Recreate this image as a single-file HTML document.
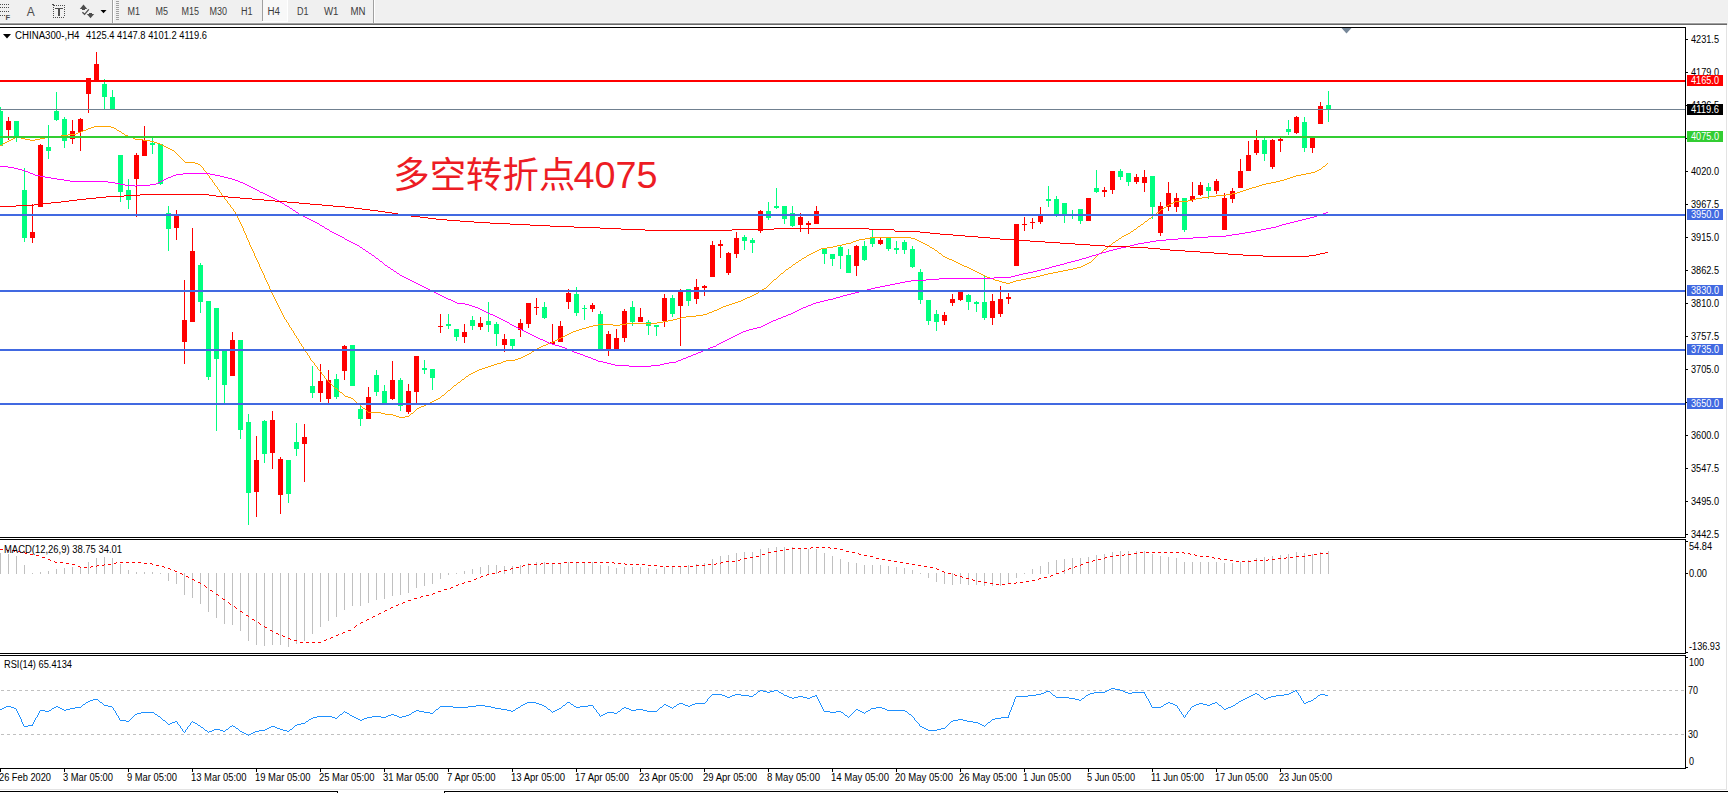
<!DOCTYPE html>
<html lang="zh"><head><meta charset="utf-8"><title>CHINA300-,H4</title>
<style>html,body{margin:0;padding:0;background:#fff;overflow:hidden}body{width:1728px;height:793px;position:relative}svg{position:absolute;left:0;top:0;display:block}text{font-family:"Liberation Sans","Noto Sans CJK SC",sans-serif;white-space:pre}.big{font-family:"Liberation Sans","Noto Sans CJK SC",sans-serif}</style></head><body>
<svg width="1728" height="793" viewBox="0 0 1728 793" shape-rendering="crispEdges">
<rect x="0" y="0" width="1728" height="793" fill="#ffffff"/>
<rect x="0" y="0" width="1728" height="22" fill="#f0f0f0"/>
<rect x="0" y="22" width="1727" height="1" fill="#f8f8f8"/>
<rect x="0" y="23" width="1727" height="1" fill="#a0a0a0"/>
<rect x="0" y="24" width="1727" height="1" fill="#696969"/>
<rect x="1727" y="0" width="1" height="25" fill="#f0f0f0"/>
<rect x="1726" y="25" width="1" height="765" fill="#e3e3e3"/>
<rect x="0" y="789" width="1727" height="1" fill="#e3e3e3"/>
<rect x="0" y="791" width="338" height="1" fill="#000"/>
<rect x="444" y="791" width="1284" height="1" fill="#000"/>
<rect x="337" y="791" width="1" height="2" fill="#000"/>
<rect x="444" y="791" width="1" height="2" fill="#000"/>
<rect x="0" y="4" width="1" height="1" fill="#4d4d4d"/>
<rect x="2" y="4" width="1" height="1" fill="#4d4d4d"/>
<rect x="4" y="4" width="1" height="1" fill="#4d4d4d"/>
<rect x="6" y="4" width="1" height="1" fill="#4d4d4d"/>
<rect x="8" y="4" width="1" height="1" fill="#4d4d4d"/>
<rect x="0" y="7" width="1" height="1" fill="#4d4d4d"/>
<rect x="2" y="7" width="1" height="1" fill="#4d4d4d"/>
<rect x="4" y="7" width="1" height="1" fill="#4d4d4d"/>
<rect x="6" y="7" width="1" height="1" fill="#4d4d4d"/>
<rect x="8" y="7" width="1" height="1" fill="#4d4d4d"/>
<rect x="0" y="11" width="1" height="1" fill="#4d4d4d"/>
<rect x="2" y="11" width="1" height="1" fill="#4d4d4d"/>
<rect x="4" y="11" width="1" height="1" fill="#4d4d4d"/>
<rect x="6" y="11" width="1" height="1" fill="#4d4d4d"/>
<rect x="8" y="11" width="1" height="1" fill="#4d4d4d"/>
<rect x="0" y="15" width="1" height="1" fill="#4d4d4d"/>
<rect x="2" y="15" width="1" height="1" fill="#4d4d4d"/>
<rect x="4" y="15" width="1" height="1" fill="#4d4d4d"/>
<text x="5.5" y="20" font-size="7.5" font-weight="bold" fill="#4d4d4d">F</text>
<text x="26.8" y="16" font-size="12.5" fill="#4d4d4d" textLength="8" lengthAdjust="spacingAndGlyphs">A</text>
<rect x="52" y="4" width="2" height="1" fill="#4d4d4d"/>
<rect x="53" y="5" width="2" height="1" fill="#4d4d4d"/>
<rect x="56" y="5" width="1" height="1" fill="#4d4d4d"/>
<rect x="58" y="5" width="1" height="1" fill="#4d4d4d"/>
<rect x="60" y="5" width="1" height="1" fill="#4d4d4d"/>
<rect x="62" y="5" width="1" height="1" fill="#4d4d4d"/>
<rect x="64" y="5" width="1" height="1" fill="#4d4d4d"/>
<rect x="53" y="7" width="1" height="1" fill="#4d4d4d"/>
<rect x="53" y="9" width="1" height="1" fill="#4d4d4d"/>
<rect x="53" y="11" width="1" height="1" fill="#4d4d4d"/>
<rect x="53" y="13" width="1" height="1" fill="#4d4d4d"/>
<rect x="53" y="15" width="1" height="1" fill="#4d4d4d"/>
<rect x="53" y="17" width="1" height="1" fill="#4d4d4d"/>
<rect x="64" y="7" width="1" height="1" fill="#4d4d4d"/>
<rect x="64" y="9" width="1" height="1" fill="#4d4d4d"/>
<rect x="64" y="11" width="1" height="1" fill="#4d4d4d"/>
<rect x="64" y="13" width="1" height="1" fill="#4d4d4d"/>
<rect x="64" y="15" width="1" height="1" fill="#4d4d4d"/>
<rect x="55" y="17" width="1" height="1" fill="#4d4d4d"/>
<rect x="57" y="17" width="1" height="1" fill="#4d4d4d"/>
<rect x="59" y="17" width="1" height="1" fill="#4d4d4d"/>
<rect x="61" y="17" width="1" height="1" fill="#4d4d4d"/>
<rect x="63" y="17" width="1" height="1" fill="#4d4d4d"/>
<rect x="55" y="8" width="8" height="1" fill="#4d4d4d"/>
<rect x="58" y="9" width="2" height="7" fill="#4d4d4d"/>
<g shape-rendering="geometricPrecision" fill="#4d4d4d"><polygon points="83.5,4.6 87.2,8.9 79.8,8.9"/><rect x="82" y="8.9" width="3" height="1.1"/><polygon points="90.5,18.2 94.2,14 86.8,14"/><rect x="89" y="13" width="3" height="1.1"/><polyline points="82.4,12.2 84.6,14.3 88.8,9.3" fill="none" stroke="#4d4d4d" stroke-width="1.3"/><polygon points="100.5,10 106.5,10 103.5,13.2" fill="#000"/></g>
<rect x="112" y="0" width="1" height="23" fill="#a0a0a0"/>
<rect x="113" y="0" width="1" height="23" fill="#ffffff"/>
<rect x="116" y="1" width="3" height="1" fill="#a0a0a0"/>
<rect x="116" y="3" width="3" height="1" fill="#a0a0a0"/>
<rect x="116" y="5" width="3" height="1" fill="#a0a0a0"/>
<rect x="116" y="7" width="3" height="1" fill="#a0a0a0"/>
<rect x="116" y="9" width="3" height="1" fill="#a0a0a0"/>
<rect x="116" y="11" width="3" height="1" fill="#a0a0a0"/>
<rect x="116" y="13" width="3" height="1" fill="#a0a0a0"/>
<rect x="116" y="15" width="3" height="1" fill="#a0a0a0"/>
<rect x="116" y="17" width="3" height="1" fill="#a0a0a0"/>
<rect x="116" y="19" width="3" height="1" fill="#a0a0a0"/>
<rect x="262" y="0" width="1" height="21" fill="#a0a0a0"/>
<rect x="263" y="0" width="24" height="21" fill="#f8f8f8"/>
<rect x="287" y="0" width="1" height="22" fill="#ffffff"/>
<rect x="262" y="21" width="26" height="1" fill="#ffffff"/>
<text x="127.5" y="15.4" font-size="10" fill="#3c3c3c" textLength="12.5" lengthAdjust="spacingAndGlyphs">M1</text>
<text x="155.5" y="15.4" font-size="10" fill="#3c3c3c" textLength="12.5" lengthAdjust="spacingAndGlyphs">M5</text>
<text x="181.5" y="15.4" font-size="10" fill="#3c3c3c" textLength="17.5" lengthAdjust="spacingAndGlyphs">M15</text>
<text x="209.5" y="15.4" font-size="10" fill="#3c3c3c" textLength="17.5" lengthAdjust="spacingAndGlyphs">M30</text>
<text x="241" y="15.4" font-size="10" fill="#3c3c3c" textLength="11.5" lengthAdjust="spacingAndGlyphs">H1</text>
<text x="267.5" y="15.4" font-size="10" fill="#3c3c3c" textLength="12.5" lengthAdjust="spacingAndGlyphs">H4</text>
<text x="297" y="15.4" font-size="10" fill="#3c3c3c" textLength="11.5" lengthAdjust="spacingAndGlyphs">D1</text>
<text x="324" y="15.4" font-size="10" fill="#3c3c3c" textLength="14.5" lengthAdjust="spacingAndGlyphs">W1</text>
<text x="350.5" y="15.4" font-size="10" fill="#3c3c3c" textLength="15" lengthAdjust="spacingAndGlyphs">MN</text>
<rect x="373" y="0" width="1" height="23" fill="#a0a0a0"/>
<rect x="374" y="0" width="1" height="23" fill="#ffffff"/>
<rect x="0" y="107" width="1" height="39" fill="#00ff7f"/>
<rect x="0" y="111" width="3" height="35" fill="#00ff7f"/>
<rect x="8" y="117" width="1" height="23" fill="#ff0000"/>
<rect x="6" y="121" width="5" height="9" fill="#ff0000"/>
<rect x="16" y="121" width="1" height="21" fill="#00ff7f"/>
<rect x="14" y="121" width="5" height="17" fill="#00ff7f"/>
<rect x="24" y="168" width="1" height="74" fill="#00ff7f"/>
<rect x="22" y="190" width="5" height="48" fill="#00ff7f"/>
<rect x="32" y="204" width="1" height="39" fill="#ff0000"/>
<rect x="30" y="232" width="5" height="6" fill="#ff0000"/>
<rect x="40" y="144" width="1" height="63" fill="#ff0000"/>
<rect x="38" y="145" width="5" height="62" fill="#ff0000"/>
<rect x="48" y="125" width="1" height="34" fill="#00ff7f"/>
<rect x="46" y="147" width="5" height="4" fill="#00ff7f"/>
<rect x="56" y="92" width="1" height="29" fill="#00ff7f"/>
<rect x="54" y="111" width="5" height="9" fill="#00ff7f"/>
<rect x="64" y="117" width="1" height="31" fill="#00ff7f"/>
<rect x="62" y="119" width="5" height="22" fill="#00ff7f"/>
<rect x="72" y="120" width="1" height="24" fill="#ff0000"/>
<rect x="70" y="131" width="5" height="8" fill="#ff0000"/>
<rect x="80" y="118" width="1" height="33" fill="#ff0000"/>
<rect x="78" y="119" width="5" height="13" fill="#ff0000"/>
<rect x="88" y="78" width="1" height="35" fill="#ff0000"/>
<rect x="86" y="78" width="5" height="16" fill="#ff0000"/>
<rect x="96" y="52" width="1" height="29" fill="#ff0000"/>
<rect x="94" y="64" width="5" height="17" fill="#ff0000"/>
<rect x="104" y="79" width="1" height="31" fill="#00ff7f"/>
<rect x="102" y="84" width="5" height="13" fill="#00ff7f"/>
<rect x="112" y="90" width="1" height="20" fill="#00ff7f"/>
<rect x="110" y="97" width="5" height="13" fill="#00ff7f"/>
<rect x="120" y="155" width="1" height="47" fill="#00ff7f"/>
<rect x="118" y="155" width="5" height="37" fill="#00ff7f"/>
<rect x="128" y="179" width="1" height="30" fill="#00ff7f"/>
<rect x="126" y="190" width="5" height="10" fill="#00ff7f"/>
<rect x="136" y="153" width="1" height="64" fill="#ff0000"/>
<rect x="134" y="155" width="5" height="24" fill="#ff0000"/>
<rect x="144" y="126" width="1" height="30" fill="#ff0000"/>
<rect x="142" y="140" width="5" height="16" fill="#ff0000"/>
<rect x="152" y="138" width="1" height="16" fill="#00ff7f"/>
<rect x="150" y="143" width="5" height="2" fill="#00ff7f"/>
<rect x="160" y="144" width="1" height="41" fill="#00ff7f"/>
<rect x="158" y="144" width="5" height="40" fill="#00ff7f"/>
<rect x="168" y="206" width="1" height="45" fill="#00ff7f"/>
<rect x="166" y="213" width="5" height="16" fill="#00ff7f"/>
<rect x="176" y="210" width="1" height="30" fill="#ff0000"/>
<rect x="174" y="216" width="5" height="12" fill="#ff0000"/>
<rect x="184" y="280" width="1" height="84" fill="#ff0000"/>
<rect x="182" y="320" width="5" height="22" fill="#ff0000"/>
<rect x="192" y="228" width="1" height="94" fill="#ff0000"/>
<rect x="190" y="251" width="5" height="71" fill="#ff0000"/>
<rect x="200" y="263" width="1" height="50" fill="#00ff7f"/>
<rect x="198" y="265" width="5" height="37" fill="#00ff7f"/>
<rect x="208" y="301" width="1" height="79" fill="#00ff7f"/>
<rect x="206" y="301" width="5" height="76" fill="#00ff7f"/>
<rect x="216" y="308" width="1" height="123" fill="#00ff7f"/>
<rect x="214" y="308" width="5" height="51" fill="#00ff7f"/>
<rect x="224" y="350" width="1" height="53" fill="#00ff7f"/>
<rect x="222" y="350" width="5" height="35" fill="#00ff7f"/>
<rect x="232" y="332" width="1" height="44" fill="#ff0000"/>
<rect x="230" y="340" width="5" height="36" fill="#ff0000"/>
<rect x="240" y="340" width="1" height="99" fill="#00ff7f"/>
<rect x="238" y="340" width="5" height="90" fill="#00ff7f"/>
<rect x="248" y="414" width="1" height="111" fill="#00ff7f"/>
<rect x="246" y="422" width="5" height="71" fill="#00ff7f"/>
<rect x="256" y="436" width="1" height="81" fill="#ff0000"/>
<rect x="254" y="460" width="5" height="32" fill="#ff0000"/>
<rect x="264" y="420" width="1" height="43" fill="#00ff7f"/>
<rect x="262" y="421" width="5" height="33" fill="#00ff7f"/>
<rect x="272" y="411" width="1" height="58" fill="#ff0000"/>
<rect x="270" y="420" width="5" height="33" fill="#ff0000"/>
<rect x="280" y="457" width="1" height="57" fill="#ff0000"/>
<rect x="278" y="459" width="5" height="36" fill="#ff0000"/>
<rect x="288" y="460" width="1" height="43" fill="#00ff7f"/>
<rect x="286" y="460" width="5" height="34" fill="#00ff7f"/>
<rect x="296" y="423" width="1" height="33" fill="#00ff7f"/>
<rect x="294" y="442" width="5" height="7" fill="#00ff7f"/>
<rect x="304" y="424" width="1" height="58" fill="#ff0000"/>
<rect x="302" y="437" width="5" height="7" fill="#ff0000"/>
<rect x="312" y="366" width="1" height="32" fill="#00ff7f"/>
<rect x="310" y="386" width="5" height="7" fill="#00ff7f"/>
<rect x="320" y="364" width="1" height="38" fill="#ff0000"/>
<rect x="318" y="381" width="5" height="12" fill="#ff0000"/>
<rect x="328" y="370" width="1" height="33" fill="#ff0000"/>
<rect x="326" y="380" width="5" height="19" fill="#ff0000"/>
<rect x="336" y="374" width="1" height="25" fill="#00ff7f"/>
<rect x="334" y="379" width="5" height="18" fill="#00ff7f"/>
<rect x="344" y="345" width="1" height="35" fill="#ff0000"/>
<rect x="342" y="346" width="5" height="25" fill="#ff0000"/>
<rect x="352" y="345" width="1" height="41" fill="#00ff7f"/>
<rect x="350" y="345" width="5" height="41" fill="#00ff7f"/>
<rect x="360" y="406" width="1" height="20" fill="#00ff7f"/>
<rect x="358" y="409" width="5" height="10" fill="#00ff7f"/>
<rect x="368" y="387" width="1" height="32" fill="#ff0000"/>
<rect x="366" y="397" width="5" height="22" fill="#ff0000"/>
<rect x="376" y="370" width="1" height="26" fill="#00ff7f"/>
<rect x="374" y="375" width="5" height="17" fill="#00ff7f"/>
<rect x="384" y="385" width="1" height="19" fill="#00ff7f"/>
<rect x="382" y="391" width="5" height="13" fill="#00ff7f"/>
<rect x="392" y="361" width="1" height="39" fill="#ff0000"/>
<rect x="390" y="380" width="5" height="19" fill="#ff0000"/>
<rect x="400" y="378" width="1" height="33" fill="#00ff7f"/>
<rect x="398" y="380" width="5" height="26" fill="#00ff7f"/>
<rect x="408" y="384" width="1" height="30" fill="#ff0000"/>
<rect x="406" y="391" width="5" height="21" fill="#ff0000"/>
<rect x="416" y="356" width="1" height="47" fill="#ff0000"/>
<rect x="414" y="356" width="5" height="36" fill="#ff0000"/>
<rect x="424" y="360" width="1" height="14" fill="#00ff7f"/>
<rect x="422" y="368" width="5" height="2" fill="#00ff7f"/>
<rect x="432" y="369" width="1" height="21" fill="#00ff7f"/>
<rect x="430" y="369" width="5" height="9" fill="#00ff7f"/>
<rect x="440" y="314" width="1" height="19" fill="#ff0000"/>
<rect x="438" y="326" width="5" height="1" fill="#ff0000"/>
<rect x="448" y="314" width="1" height="15" fill="#00ff7f"/>
<rect x="446" y="324" width="5" height="2" fill="#00ff7f"/>
<rect x="456" y="329" width="1" height="12" fill="#00ff7f"/>
<rect x="454" y="329" width="5" height="8" fill="#00ff7f"/>
<rect x="464" y="324" width="1" height="19" fill="#ff0000"/>
<rect x="462" y="332" width="5" height="5" fill="#ff0000"/>
<rect x="472" y="316" width="1" height="14" fill="#00ff7f"/>
<rect x="470" y="320" width="5" height="6" fill="#00ff7f"/>
<rect x="480" y="317" width="1" height="13" fill="#ff0000"/>
<rect x="478" y="323" width="5" height="4" fill="#ff0000"/>
<rect x="488" y="302" width="1" height="30" fill="#00ff7f"/>
<rect x="486" y="321" width="5" height="4" fill="#00ff7f"/>
<rect x="496" y="322" width="1" height="24" fill="#00ff7f"/>
<rect x="494" y="324" width="5" height="10" fill="#00ff7f"/>
<rect x="504" y="334" width="1" height="18" fill="#ff0000"/>
<rect x="502" y="339" width="5" height="6" fill="#ff0000"/>
<rect x="512" y="339" width="1" height="10" fill="#00ff7f"/>
<rect x="510" y="339" width="5" height="7" fill="#00ff7f"/>
<rect x="520" y="319" width="1" height="18" fill="#ff0000"/>
<rect x="518" y="323" width="5" height="7" fill="#ff0000"/>
<rect x="528" y="303" width="1" height="25" fill="#ff0000"/>
<rect x="526" y="303" width="5" height="21" fill="#ff0000"/>
<rect x="536" y="298" width="1" height="17" fill="#ff0000"/>
<rect x="534" y="307" width="5" height="1" fill="#ff0000"/>
<rect x="544" y="302" width="1" height="17" fill="#00ff7f"/>
<rect x="542" y="307" width="5" height="11" fill="#00ff7f"/>
<rect x="552" y="324" width="1" height="20" fill="#ff0000"/>
<rect x="550" y="342" width="5" height="2" fill="#ff0000"/>
<rect x="560" y="321" width="1" height="21" fill="#ff0000"/>
<rect x="558" y="326" width="5" height="16" fill="#ff0000"/>
<rect x="568" y="289" width="1" height="20" fill="#ff0000"/>
<rect x="566" y="293" width="5" height="9" fill="#ff0000"/>
<rect x="576" y="287" width="1" height="29" fill="#00ff7f"/>
<rect x="574" y="294" width="5" height="19" fill="#00ff7f"/>
<rect x="584" y="305" width="1" height="15" fill="#00ff7f"/>
<rect x="582" y="308" width="5" height="1" fill="#00ff7f"/>
<rect x="592" y="303" width="1" height="9" fill="#ff0000"/>
<rect x="590" y="305" width="5" height="4" fill="#ff0000"/>
<rect x="600" y="311" width="1" height="39" fill="#00ff7f"/>
<rect x="598" y="314" width="5" height="36" fill="#00ff7f"/>
<rect x="608" y="331" width="1" height="25" fill="#ff0000"/>
<rect x="606" y="334" width="5" height="16" fill="#ff0000"/>
<rect x="616" y="329" width="1" height="21" fill="#ff0000"/>
<rect x="614" y="338" width="5" height="12" fill="#ff0000"/>
<rect x="624" y="309" width="1" height="33" fill="#ff0000"/>
<rect x="622" y="311" width="5" height="27" fill="#ff0000"/>
<rect x="632" y="301" width="1" height="25" fill="#00ff7f"/>
<rect x="630" y="307" width="5" height="15" fill="#00ff7f"/>
<rect x="640" y="308" width="1" height="14" fill="#ff0000"/>
<rect x="638" y="317" width="5" height="5" fill="#ff0000"/>
<rect x="648" y="320" width="1" height="15" fill="#00ff7f"/>
<rect x="646" y="322" width="5" height="4" fill="#00ff7f"/>
<rect x="656" y="325" width="1" height="11" fill="#00ff7f"/>
<rect x="654" y="325" width="5" height="2" fill="#00ff7f"/>
<rect x="664" y="294" width="1" height="33" fill="#ff0000"/>
<rect x="662" y="298" width="5" height="23" fill="#ff0000"/>
<rect x="672" y="295" width="1" height="22" fill="#00ff7f"/>
<rect x="670" y="298" width="5" height="16" fill="#00ff7f"/>
<rect x="680" y="289" width="1" height="57" fill="#ff0000"/>
<rect x="678" y="291" width="5" height="15" fill="#ff0000"/>
<rect x="688" y="289" width="1" height="17" fill="#00ff7f"/>
<rect x="686" y="289" width="5" height="12" fill="#00ff7f"/>
<rect x="696" y="279" width="1" height="25" fill="#ff0000"/>
<rect x="694" y="287" width="5" height="12" fill="#ff0000"/>
<rect x="704" y="285" width="1" height="11" fill="#ff0000"/>
<rect x="702" y="286" width="5" height="2" fill="#ff0000"/>
<rect x="712" y="241" width="1" height="36" fill="#ff0000"/>
<rect x="710" y="245" width="5" height="32" fill="#ff0000"/>
<rect x="720" y="240" width="1" height="18" fill="#ff0000"/>
<rect x="718" y="244" width="5" height="2" fill="#ff0000"/>
<rect x="728" y="252" width="1" height="23" fill="#ff0000"/>
<rect x="726" y="253" width="5" height="20" fill="#ff0000"/>
<rect x="736" y="232" width="1" height="26" fill="#ff0000"/>
<rect x="734" y="238" width="5" height="16" fill="#ff0000"/>
<rect x="744" y="235" width="1" height="15" fill="#00ff7f"/>
<rect x="742" y="237" width="5" height="4" fill="#00ff7f"/>
<rect x="752" y="238" width="1" height="15" fill="#00ff7f"/>
<rect x="750" y="240" width="5" height="3" fill="#00ff7f"/>
<rect x="760" y="210" width="1" height="23" fill="#ff0000"/>
<rect x="758" y="211" width="5" height="20" fill="#ff0000"/>
<rect x="768" y="202" width="1" height="18" fill="#00ff7f"/>
<rect x="766" y="211" width="5" height="7" fill="#00ff7f"/>
<rect x="776" y="188" width="1" height="21" fill="#00ff7f"/>
<rect x="774" y="206" width="5" height="2" fill="#00ff7f"/>
<rect x="784" y="206" width="1" height="18" fill="#00ff7f"/>
<rect x="782" y="206" width="5" height="13" fill="#00ff7f"/>
<rect x="792" y="206" width="1" height="21" fill="#00ff7f"/>
<rect x="790" y="213" width="5" height="13" fill="#00ff7f"/>
<rect x="800" y="213" width="1" height="19" fill="#ff0000"/>
<rect x="798" y="217" width="5" height="8" fill="#ff0000"/>
<rect x="808" y="221" width="1" height="13" fill="#ff0000"/>
<rect x="806" y="223" width="5" height="2" fill="#ff0000"/>
<rect x="816" y="206" width="1" height="18" fill="#ff0000"/>
<rect x="814" y="211" width="5" height="13" fill="#ff0000"/>
<rect x="824" y="249" width="1" height="15" fill="#00ff7f"/>
<rect x="822" y="249" width="5" height="5" fill="#00ff7f"/>
<rect x="832" y="254" width="1" height="12" fill="#00ff7f"/>
<rect x="830" y="254" width="5" height="5" fill="#00ff7f"/>
<rect x="840" y="245" width="1" height="24" fill="#00ff7f"/>
<rect x="838" y="247" width="5" height="9" fill="#00ff7f"/>
<rect x="848" y="249" width="1" height="24" fill="#00ff7f"/>
<rect x="846" y="255" width="5" height="18" fill="#00ff7f"/>
<rect x="856" y="245" width="1" height="31" fill="#ff0000"/>
<rect x="854" y="246" width="5" height="20" fill="#ff0000"/>
<rect x="864" y="241" width="1" height="20" fill="#00ff7f"/>
<rect x="862" y="246" width="5" height="14" fill="#00ff7f"/>
<rect x="872" y="230" width="1" height="17" fill="#00ff7f"/>
<rect x="870" y="237" width="5" height="7" fill="#00ff7f"/>
<rect x="880" y="238" width="1" height="7" fill="#ff0000"/>
<rect x="878" y="240" width="5" height="4" fill="#ff0000"/>
<rect x="888" y="238" width="1" height="13" fill="#00ff7f"/>
<rect x="886" y="238" width="5" height="11" fill="#00ff7f"/>
<rect x="896" y="241" width="1" height="13" fill="#00ff7f"/>
<rect x="894" y="248" width="5" height="2" fill="#00ff7f"/>
<rect x="904" y="240" width="1" height="14" fill="#00ff7f"/>
<rect x="902" y="242" width="5" height="8" fill="#00ff7f"/>
<rect x="912" y="246" width="1" height="22" fill="#00ff7f"/>
<rect x="910" y="249" width="5" height="18" fill="#00ff7f"/>
<rect x="920" y="269" width="1" height="35" fill="#00ff7f"/>
<rect x="918" y="272" width="5" height="28" fill="#00ff7f"/>
<rect x="928" y="300" width="1" height="25" fill="#00ff7f"/>
<rect x="926" y="300" width="5" height="21" fill="#00ff7f"/>
<rect x="936" y="310" width="1" height="21" fill="#00ff7f"/>
<rect x="934" y="314" width="5" height="8" fill="#00ff7f"/>
<rect x="944" y="312" width="1" height="13" fill="#ff0000"/>
<rect x="942" y="315" width="5" height="6" fill="#ff0000"/>
<rect x="952" y="294" width="1" height="12" fill="#ff0000"/>
<rect x="950" y="299" width="5" height="4" fill="#ff0000"/>
<rect x="960" y="291" width="1" height="10" fill="#ff0000"/>
<rect x="958" y="291" width="5" height="9" fill="#ff0000"/>
<rect x="968" y="294" width="1" height="16" fill="#00ff7f"/>
<rect x="966" y="295" width="5" height="7" fill="#00ff7f"/>
<rect x="976" y="301" width="1" height="11" fill="#00ff7f"/>
<rect x="974" y="302" width="5" height="2" fill="#00ff7f"/>
<rect x="984" y="275" width="1" height="45" fill="#00ff7f"/>
<rect x="982" y="302" width="5" height="16" fill="#00ff7f"/>
<rect x="992" y="294" width="1" height="31" fill="#ff0000"/>
<rect x="990" y="301" width="5" height="17" fill="#ff0000"/>
<rect x="1000" y="286" width="1" height="31" fill="#ff0000"/>
<rect x="998" y="299" width="5" height="15" fill="#ff0000"/>
<rect x="1008" y="293" width="1" height="11" fill="#ff0000"/>
<rect x="1006" y="297" width="5" height="2" fill="#ff0000"/>
<rect x="1016" y="224" width="1" height="42" fill="#ff0000"/>
<rect x="1014" y="224" width="5" height="42" fill="#ff0000"/>
<rect x="1024" y="217" width="1" height="14" fill="#ff0000"/>
<rect x="1022" y="224" width="5" height="1" fill="#ff0000"/>
<rect x="1032" y="218" width="1" height="11" fill="#ff0000"/>
<rect x="1030" y="222" width="5" height="1" fill="#ff0000"/>
<rect x="1040" y="207" width="1" height="17" fill="#ff0000"/>
<rect x="1038" y="215" width="5" height="7" fill="#ff0000"/>
<rect x="1048" y="186" width="1" height="21" fill="#00ff7f"/>
<rect x="1046" y="199" width="5" height="2" fill="#00ff7f"/>
<rect x="1056" y="196" width="1" height="21" fill="#00ff7f"/>
<rect x="1054" y="199" width="5" height="17" fill="#00ff7f"/>
<rect x="1064" y="203" width="1" height="20" fill="#00ff7f"/>
<rect x="1062" y="203" width="5" height="12" fill="#00ff7f"/>
<rect x="1072" y="210" width="1" height="9" fill="#00ff7f"/>
<rect x="1070" y="214" width="5" height="1" fill="#00ff7f"/>
<rect x="1080" y="209" width="1" height="15" fill="#00ff7f"/>
<rect x="1078" y="209" width="5" height="12" fill="#00ff7f"/>
<rect x="1088" y="198" width="1" height="23" fill="#ff0000"/>
<rect x="1086" y="198" width="5" height="23" fill="#ff0000"/>
<rect x="1096" y="170" width="1" height="23" fill="#00ff7f"/>
<rect x="1094" y="188" width="5" height="4" fill="#00ff7f"/>
<rect x="1104" y="187" width="1" height="10" fill="#ff0000"/>
<rect x="1102" y="190" width="5" height="2" fill="#ff0000"/>
<rect x="1112" y="171" width="1" height="23" fill="#ff0000"/>
<rect x="1110" y="171" width="5" height="19" fill="#ff0000"/>
<rect x="1120" y="169" width="1" height="11" fill="#00ff7f"/>
<rect x="1118" y="171" width="5" height="6" fill="#00ff7f"/>
<rect x="1128" y="173" width="1" height="13" fill="#00ff7f"/>
<rect x="1126" y="173" width="5" height="9" fill="#00ff7f"/>
<rect x="1136" y="174" width="1" height="10" fill="#ff0000"/>
<rect x="1134" y="177" width="5" height="5" fill="#ff0000"/>
<rect x="1144" y="170" width="1" height="22" fill="#ff0000"/>
<rect x="1142" y="177" width="5" height="6" fill="#ff0000"/>
<rect x="1152" y="176" width="1" height="43" fill="#00ff7f"/>
<rect x="1150" y="176" width="5" height="31" fill="#00ff7f"/>
<rect x="1160" y="202" width="1" height="34" fill="#ff0000"/>
<rect x="1158" y="206" width="5" height="27" fill="#ff0000"/>
<rect x="1168" y="182" width="1" height="29" fill="#ff0000"/>
<rect x="1166" y="193" width="5" height="14" fill="#ff0000"/>
<rect x="1176" y="193" width="1" height="19" fill="#ff0000"/>
<rect x="1174" y="198" width="5" height="9" fill="#ff0000"/>
<rect x="1184" y="198" width="1" height="34" fill="#00ff7f"/>
<rect x="1182" y="198" width="5" height="32" fill="#00ff7f"/>
<rect x="1192" y="182" width="1" height="20" fill="#ff0000"/>
<rect x="1190" y="196" width="5" height="4" fill="#ff0000"/>
<rect x="1200" y="182" width="1" height="14" fill="#ff0000"/>
<rect x="1198" y="185" width="5" height="10" fill="#ff0000"/>
<rect x="1208" y="183" width="1" height="16" fill="#00ff7f"/>
<rect x="1206" y="187" width="5" height="4" fill="#00ff7f"/>
<rect x="1216" y="179" width="1" height="15" fill="#ff0000"/>
<rect x="1214" y="181" width="5" height="10" fill="#ff0000"/>
<rect x="1224" y="193" width="1" height="37" fill="#ff0000"/>
<rect x="1222" y="198" width="5" height="32" fill="#ff0000"/>
<rect x="1232" y="188" width="1" height="15" fill="#ff0000"/>
<rect x="1230" y="191" width="5" height="8" fill="#ff0000"/>
<rect x="1240" y="159" width="1" height="29" fill="#ff0000"/>
<rect x="1238" y="171" width="5" height="17" fill="#ff0000"/>
<rect x="1248" y="141" width="1" height="30" fill="#ff0000"/>
<rect x="1246" y="155" width="5" height="16" fill="#ff0000"/>
<rect x="1256" y="130" width="1" height="25" fill="#ff0000"/>
<rect x="1254" y="140" width="5" height="13" fill="#ff0000"/>
<rect x="1264" y="138" width="1" height="23" fill="#00ff7f"/>
<rect x="1262" y="140" width="5" height="14" fill="#00ff7f"/>
<rect x="1272" y="139" width="1" height="30" fill="#ff0000"/>
<rect x="1270" y="140" width="5" height="27" fill="#ff0000"/>
<rect x="1280" y="138" width="1" height="14" fill="#ff0000"/>
<rect x="1278" y="139" width="5" height="2" fill="#ff0000"/>
<rect x="1288" y="120" width="1" height="15" fill="#00ff7f"/>
<rect x="1286" y="129" width="5" height="3" fill="#00ff7f"/>
<rect x="1296" y="116" width="1" height="18" fill="#ff0000"/>
<rect x="1294" y="117" width="5" height="16" fill="#ff0000"/>
<rect x="1304" y="117" width="1" height="35" fill="#00ff7f"/>
<rect x="1302" y="122" width="5" height="26" fill="#00ff7f"/>
<rect x="1312" y="137" width="1" height="16" fill="#ff0000"/>
<rect x="1310" y="137" width="5" height="11" fill="#ff0000"/>
<rect x="1320" y="102" width="1" height="22" fill="#ff0000"/>
<rect x="1318" y="106" width="5" height="18" fill="#ff0000"/>
<rect x="1328" y="91" width="1" height="31" fill="#00ff7f"/>
<rect x="1326" y="105" width="5" height="5" fill="#00ff7f"/>
<path d="M0 145.5h2M2 144.5h1M3 143.5h2M5 142.5h2M7 141.5h2M9 140.5h2M11 139.5h2M13 138.5h2M15 137.5h6M21 138.5h4M25 139.5h5M30 140.5h5M35 139.5h5M40 138.5h5M45 137.5h8M53 136.5h8M61 135.5h7M68 134.5h8M76 133.5h2M78 132.5h3M81 131.5h2M83 130.5h3M86 129.5h2M88 128.5h3M91 127.5h3M94 126.5h17M111 127.5h3M114 128.5h2M116 129.5h1M117 130.5h2M119 131.5h2M121 132.5h1M122 133.5h2M124 134.5h1M125 135.5h3M128 136.5h2M130 137.5h3M133 138.5h2M135 139.5h8M143 140.5h7M150 141.5h4M154 142.5h3M157 143.5h3M160 144.5h2M162 145.5h2M164 146.5h2M166 147.5h2M168 148.5h2M170 149.5h2M172 150.5h2M174 151.5h1M175 152.5h1M176 153.5h1M177 154.5h1M178 155.5h1M179 156.5h1M180 157.5h1M181 158.5h1M182 159.5h1M183 160.5h1M184 161.5h1M185 162.5h10M195 163.5h3M198 164.5h2M200 165.5h1M201 166.5h1M202 167.5h1M203.5 168v2M204 170.5h1M205 171.5h1M206.5 172v2M207 174.5h1M208 175.5h1M209.5 176v2M210 178.5h1M211 179.5h1M212.5 180v2M213 182.5h1M214.5 183v2M215 185.5h1M216 186.5h1M217.5 187v2M218 189.5h1M219.5 190v2M220 192.5h1M221.5 193v2M222 195.5h1M223 196.5h1M224.5 197v2M225 199.5h1M226 200.5h1M227.5 201v2M228 203.5h1M229 204.5h1M230.5 205v2M231 207.5h1M232 208.5h1M233.5 209v2M234 211.5h1M235.5 212v2M236.5 214v2M237.5 216v2M238.5 218v2M239.5 220v2M240.5 222v2M241.5 224v2M242.5 226v2M243.5 228v3M244.5 231v2M245.5 233v2M246.5 235v3M247.5 238v2M248.5 240v2M249.5 242v3M250.5 245v2M251.5 247v2M252.5 249v2M253.5 251v2M254.5 253v3M255.5 256v2M256.5 258v2M257.5 260v2M258.5 262v2M259.5 264v3M260.5 267v2M261.5 269v2M262.5 271v2M263.5 273v2M264.5 275v3M265.5 278v2M266.5 280v2M267.5 282v2M268.5 284v2M269.5 286v3M270.5 289v2M271.5 291v2M272.5 293v2M273.5 295v2M274.5 297v2M275.5 299v2M276.5 301v2M277.5 303v2M278.5 305v2M279.5 307v2M280.5 309v2M281.5 311v2M282.5 313v2M283.5 315v2M284.5 317v2M285 319.5h1M286.5 320v2M287 322.5h1M288.5 323v2M289.5 325v2M290 327.5h1M291.5 328v2M292 330.5h1M293.5 331v2M294.5 333v2M295 335.5h1M296.5 336v2M297 338.5h1M298.5 339v2M299.5 341v2M300 343.5h1M301.5 344v2M302 346.5h1M303.5 347v2M304 349.5h1M305.5 350v2M306 352.5h1M307.5 353v2M308 355.5h1M309.5 356v2M310.5 358v2M311 360.5h1M312 361.5h1M313 362.5h1M314.5 363v2M315 365.5h1M316 366.5h1M317.5 367v2M318 369.5h1M319 370.5h1M320 371.5h1M321.5 372v2M322 374.5h1M323 375.5h1M324.5 376v2M325 378.5h1M326 379.5h1M327 380.5h1M328 381.5h1M329 382.5h1M330 383.5h1M331 384.5h1M332 385.5h1M333 386.5h1M334 387.5h1M335 388.5h2M337 389.5h1M338 390.5h1M339 391.5h1M340 392.5h2M342 393.5h1M343 394.5h1M344 395.5h1M345 396.5h3M348 397.5h3M351 398.5h2M353 399.5h1M354 400.5h1M355 401.5h1M356 402.5h1M357 403.5h1M358 404.5h2M360 405.5h1M361 406.5h1M362 407.5h1M363 408.5h2M365 409.5h1M366 410.5h1M367 411.5h1M368 412.5h13M381 413.5h4M385 414.5h8M393 415.5h3M396 416.5h3M399 417.5h6M405 416.5h4M409 415.5h1M410 414.5h1M411 413.5h2M413 412.5h1M414 411.5h1M415 410.5h1M416 409.5h1M417 408.5h2M419 407.5h2M421 406.5h3M424 405.5h2M426 404.5h3M429 403.5h1M430 402.5h2M432 401.5h2M434 400.5h2M436 399.5h2M438 398.5h2M440 397.5h1M441 396.5h1M442 395.5h2M444 394.5h1M445 393.5h1M446 392.5h1M447 391.5h1M448 390.5h2M450 389.5h1M451 388.5h1M452 387.5h1M453 386.5h1M454 385.5h2M456 384.5h1M457 383.5h1M458 382.5h2M460 381.5h1M461 380.5h1M462 379.5h2M464 378.5h1M465 377.5h1M466 376.5h2M468 375.5h1M469 374.5h2M471 373.5h2M473 372.5h2M475 371.5h2M477 370.5h2M479 369.5h3M482 368.5h3M485 367.5h3M488 366.5h3M491 365.5h3M494 364.5h3M497 363.5h4M501 362.5h2M503 361.5h3M506 360.5h9M515 359.5h3M518 358.5h3M521 357.5h2M523 356.5h2M525 355.5h2M527 354.5h2M529 353.5h2M531 352.5h1M532 351.5h2M534 350.5h2M536 349.5h1M537 348.5h2M539 347.5h2M541 346.5h2M543 345.5h3M546 344.5h2M548 343.5h3M551 342.5h2M553 341.5h2M555 340.5h2M557 339.5h2M559 338.5h2M561 337.5h2M563 336.5h2M565 335.5h2M567 334.5h2M569 333.5h2M571 332.5h2M573 331.5h3M576 330.5h3M579 329.5h3M582 328.5h4M586 327.5h3M589 326.5h4M593 325.5h5M598 324.5h15M613 325.5h7M620 324.5h6M626 323.5h24M650 324.5h1M651 323.5h6M657 322.5h6M663 321.5h5M668 320.5h5M673 319.5h4M677 318.5h4M681 317.5h5M686 316.5h10M696 315.5h7M703 314.5h4M707 313.5h2M709 312.5h3M712 311.5h2M714 310.5h3M717 309.5h2M719 308.5h2M721 307.5h2M723 306.5h3M726 305.5h3M729 304.5h3M732 303.5h3M735 302.5h3M738 301.5h3M741 300.5h2M743 299.5h2M745 298.5h2M747 297.5h3M750 296.5h2M752 295.5h2M754 294.5h2M756 293.5h2M758 292.5h1M759 291.5h2M761 290.5h1M762 289.5h2M764 288.5h2M766 287.5h1M767 286.5h1M768 285.5h1M769 284.5h1M770 283.5h1M771 282.5h1M772 281.5h1M773 280.5h1M774 279.5h2M776 278.5h1M777 277.5h1M778 276.5h1M779 275.5h1M780 274.5h1M781 273.5h2M783 272.5h1M784 271.5h1M785 270.5h1M786 269.5h2M788 268.5h1M789 267.5h2M791 266.5h1M792 265.5h1M793 264.5h2M795 263.5h1M796 262.5h2M798 261.5h1M799 260.5h2M801 259.5h1M802 258.5h2M804 257.5h2M806 256.5h1M807 255.5h2M809 254.5h2M811 253.5h2M813 252.5h2M815 251.5h2M817 250.5h2M819 249.5h2M821 248.5h6M827 247.5h6M833 246.5h4M837 245.5h5M842 244.5h4M846 243.5h5M851 242.5h2M853 241.5h3M856 240.5h3M859 239.5h6M865 238.5h6M871 237.5h40M911 238.5h4M915 239.5h2M917 240.5h2M919 241.5h2M921 242.5h2M923 243.5h2M925 244.5h2M927 245.5h2M929 246.5h1M930 247.5h2M932 248.5h2M934 249.5h1M935 250.5h2M937 251.5h1M938 252.5h1M939 253.5h2M941 254.5h1M942 255.5h1M943 256.5h2M945 257.5h2M947 258.5h2M949 259.5h3M952 260.5h2M954 261.5h2M956 262.5h2M958 263.5h2M960 264.5h2M962 265.5h2M964 266.5h3M967 267.5h2M969 268.5h2M971 269.5h2M973 270.5h2M975 271.5h2M977 272.5h2M979 273.5h2M981 274.5h2M983 275.5h2M985 276.5h2M987 277.5h3M990 278.5h3M993 279.5h2M995 280.5h4M999 281.5h3M1002 282.5h4M1006 283.5h4M1010 282.5h3M1013 281.5h3M1016 280.5h5M1021 279.5h5M1026 278.5h5M1031 277.5h5M1036 276.5h4M1040 275.5h4M1044 274.5h4M1048 273.5h5M1053 272.5h5M1058 271.5h5M1063 270.5h5M1068 269.5h5M1073 268.5h4M1077 267.5h4M1081 266.5h2M1083 265.5h2M1085 264.5h2M1087 263.5h2M1089 262.5h2M1091 261.5h1M1092 260.5h1M1093 259.5h1M1094 258.5h1M1095 257.5h1M1096 256.5h1M1097 255.5h1M1098 254.5h1M1099 253.5h2M1101 252.5h1M1102 251.5h1M1103 250.5h1M1104 249.5h2M1106 248.5h1M1107 247.5h1M1108 246.5h1M1109 245.5h2M1111 244.5h1M1112 243.5h1M1113 242.5h2M1115 241.5h1M1116 240.5h2M1118 239.5h1M1119 238.5h2M1121 237.5h1M1122 236.5h2M1124 235.5h2M1126 234.5h2M1128 233.5h2M1130 232.5h1M1131 231.5h2M1133 230.5h1M1134 229.5h2M1136 228.5h1M1137 227.5h1M1138 226.5h2M1140 225.5h1M1141 224.5h2M1143 223.5h1M1144 222.5h1M1145 221.5h2M1147 220.5h1M1148 219.5h1M1149 218.5h2M1151 217.5h1M1152 216.5h1M1153 215.5h2M1155 214.5h1M1156 213.5h1M1157 212.5h2M1159 211.5h1M1160 210.5h1M1161 209.5h2M1163 208.5h1M1164 207.5h2M1166 206.5h1M1167 205.5h2M1169 204.5h2M1171 203.5h2M1173 202.5h2M1175 201.5h13M1188 200.5h4M1192 199.5h4M1196 198.5h6M1202 197.5h7M1209 196.5h7M1216 195.5h10M1226 194.5h6M1232 193.5h5M1237 192.5h3M1240 191.5h3M1243 190.5h3M1246 189.5h3M1249 188.5h3M1252 187.5h4M1256 186.5h3M1259 185.5h3M1262 184.5h4M1266 183.5h5M1271 182.5h5M1276 181.5h4M1280 180.5h4M1284 179.5h3M1287 178.5h3M1290 177.5h3M1293 176.5h3M1296 175.5h5M1301 174.5h5M1306 173.5h5M1311 172.5h4M1315 171.5h2M1317 170.5h2M1319 169.5h2M1321 168.5h1M1322 167.5h1M1323 166.5h2M1325 165.5h1M1326 164.5h1M1327 163.5h1" fill="none" stroke="#ffa500" stroke-width="1"/>
<path d="M0 166.5h8M8 167.5h6M14 168.5h4M18 169.5h4M22 170.5h3M25 171.5h3M28 172.5h2M30 173.5h3M33 174.5h2M35 175.5h5M40 176.5h5M45 177.5h6M51 178.5h6M57 179.5h7M64 180.5h6M70 181.5h38M108 182.5h7M115 183.5h5M120 184.5h5M125 185.5h10M135 186.5h1M136 185.5h14M150 184.5h6M156 183.5h2M158 182.5h2M160 181.5h2M162 180.5h2M164 179.5h2M166 178.5h2M168 177.5h3M171 176.5h2M173 175.5h3M176 174.5h7M183 173.5h27M210 174.5h5M215 175.5h5M220 176.5h4M224 177.5h4M228 178.5h4M232 179.5h3M235 180.5h3M238 181.5h2M240 182.5h3M243 183.5h2M245 184.5h2M247 185.5h2M249 186.5h2M251 187.5h2M253 188.5h2M255 189.5h2M257 190.5h2M259 191.5h1M260 192.5h3M263 193.5h2M265 194.5h2M267 195.5h2M269 196.5h2M271 197.5h2M273 198.5h2M275 199.5h2M277 200.5h2M279 201.5h1M280 202.5h2M282 203.5h2M284 204.5h1M285 205.5h2M287 206.5h2M289 207.5h1M290 208.5h2M292 209.5h1M293 210.5h2M295 211.5h1M296 212.5h2M298 213.5h1M299 214.5h1M300 215.5h3M303 216.5h2M305 217.5h2M307 218.5h2M309 219.5h2M311 220.5h2M313 221.5h2M315 222.5h2M317 223.5h2M319 224.5h1M320 225.5h2M322 226.5h2M324 227.5h1M325 228.5h2M327 229.5h2M329 230.5h1M330 231.5h2M332 232.5h2M334 233.5h2M336 234.5h2M338 235.5h2M340 236.5h2M342 237.5h2M344 238.5h1M345 239.5h2M347 240.5h2M349 241.5h2M351 242.5h2M353 243.5h2M355 244.5h2M357 245.5h2M359 246.5h1M360 247.5h2M362 248.5h1M363 249.5h2M365 250.5h1M366 251.5h2M368 252.5h1M369 253.5h2M371 254.5h1M372 255.5h2M374 256.5h1M375 257.5h1M376 258.5h2M378 259.5h1M379 260.5h1M380 261.5h2M382 262.5h1M383 263.5h1M384 264.5h1M385 265.5h2M387 266.5h1M388 267.5h2M390 268.5h1M391 269.5h2M393 270.5h1M394 271.5h2M396 272.5h1M397 273.5h2M399 274.5h1M400 275.5h2M402 276.5h2M404 277.5h2M406 278.5h2M408 279.5h2M410 280.5h2M412 281.5h2M414 282.5h2M416 283.5h2M418 284.5h2M420 285.5h2M422 286.5h2M424 287.5h2M426 288.5h2M428 289.5h2M430 290.5h2M432 291.5h2M434 292.5h2M436 293.5h2M438 294.5h2M440 295.5h2M442 296.5h2M444 297.5h2M446 298.5h2M448 299.5h3M451 300.5h2M453 301.5h2M455 302.5h2M457 303.5h8M465 304.5h4M469 305.5h3M472 306.5h3M475 307.5h3M478 308.5h2M480 309.5h2M482 310.5h2M484 311.5h2M486 312.5h2M488 313.5h2M490 314.5h3M493 315.5h2M495 316.5h2M497 317.5h2M499 318.5h2M501 319.5h2M503 320.5h2M505 321.5h2M507 322.5h2M509 323.5h1M510 324.5h2M512 325.5h2M514 326.5h2M516 327.5h2M518 328.5h2M520 329.5h2M522 330.5h2M524 331.5h2M526 332.5h2M528 333.5h2M530 334.5h2M532 335.5h2M534 336.5h2M536 337.5h2M538 338.5h2M540 339.5h3M543 340.5h2M545 341.5h2M547 342.5h2M549 343.5h3M552 344.5h3M555 345.5h4M559 346.5h3M562 347.5h3M565 348.5h2M567 349.5h3M570 350.5h2M572 351.5h2M574 352.5h3M577 353.5h3M580 354.5h3M583 355.5h2M585 356.5h3M588 357.5h3M591 358.5h2M593 359.5h3M596 360.5h2M598 361.5h5M603 362.5h4M607 363.5h4M611 364.5h4M615 365.5h14M629 366.5h22M651 365.5h9M660 364.5h4M664 363.5h5M669 362.5h7M676 361.5h2M678 360.5h3M681 359.5h2M683 358.5h3M686 357.5h2M688 356.5h3M691 355.5h2M693 354.5h3M696 353.5h2M698 352.5h3M701 351.5h2M703 350.5h2M705 349.5h3M708 348.5h2M710 347.5h3M713 346.5h3M716 345.5h1M717 344.5h2M719 343.5h2M721 342.5h2M723 341.5h2M725 340.5h2M727 339.5h2M729 338.5h2M731 337.5h2M733 336.5h2M735 335.5h2M737 334.5h2M739 333.5h2M741 332.5h2M743 331.5h3M746 330.5h3M749 329.5h4M753 328.5h4M757 327.5h4M761 326.5h2M763 325.5h2M765 324.5h2M767 323.5h2M769 322.5h2M771 321.5h2M773 320.5h3M776 319.5h2M778 318.5h3M781 317.5h2M783 316.5h3M786 315.5h2M788 314.5h3M791 313.5h2M793 312.5h2M795 311.5h2M797 310.5h2M799 309.5h2M801 308.5h2M803 307.5h3M806 306.5h2M808 305.5h3M811 304.5h2M813 303.5h3M816 302.5h4M820 301.5h4M824 300.5h4M828 299.5h5M833 298.5h3M836 297.5h4M840 296.5h3M843 295.5h4M847 294.5h4M851 293.5h4M855 292.5h4M859 291.5h4M863 290.5h4M867 289.5h4M871 288.5h4M875 287.5h5M880 286.5h5M885 285.5h5M890 284.5h5M895 283.5h5M900 282.5h5M905 281.5h6M911 280.5h15M926 279.5h13M939 278.5h55M994 277.5h17M1011 276.5h4M1015 275.5h4M1019 274.5h4M1023 273.5h5M1028 272.5h5M1033 271.5h4M1037 270.5h4M1041 269.5h4M1045 268.5h4M1049 267.5h3M1052 266.5h4M1056 265.5h4M1060 264.5h4M1064 263.5h3M1067 262.5h4M1071 261.5h4M1075 260.5h4M1079 259.5h3M1082 258.5h4M1086 257.5h3M1089 256.5h3M1092 255.5h4M1096 254.5h3M1099 253.5h3M1102 252.5h4M1106 251.5h3M1109 250.5h4M1113 249.5h4M1117 248.5h4M1121 247.5h5M1126 246.5h4M1130 245.5h4M1134 244.5h4M1138 243.5h6M1144 242.5h6M1150 241.5h6M1156 240.5h10M1166 239.5h12M1178 238.5h15M1193 237.5h15M1208 236.5h18M1226 235.5h6M1232 234.5h7M1239 233.5h6M1245 232.5h6M1251 231.5h5M1256 230.5h5M1261 229.5h5M1266 228.5h5M1271 227.5h5M1276 226.5h3M1279 225.5h3M1282 224.5h4M1286 223.5h4M1290 222.5h4M1294 221.5h4M1298 220.5h4M1302 219.5h4M1306 218.5h4M1310 217.5h4M1314 216.5h3M1317 215.5h3M1320 214.5h3M1323 213.5h3M1326 212.5h2" fill="none" stroke="#ff00ff" stroke-width="1"/>
<path d="M0 206.5h16M16 205.5h18M34 204.5h7M41 203.5h10M51 202.5h10M61 201.5h8M69 200.5h8M77 199.5h9M86 198.5h10M96 197.5h10M106 196.5h18M124 195.5h16M140 194.5h69M209 195.5h7M216 196.5h12M228 197.5h12M240 198.5h12M252 199.5h12M264 200.5h11M275 201.5h12M287 202.5h12M299 203.5h11M310 204.5h12M322 205.5h11M333 206.5h12M345 207.5h9M354 208.5h8M362 209.5h8M370 210.5h8M378 211.5h7M385 212.5h7M392 213.5h6M398 214.5h7M405 215.5h6M411 216.5h9M420 217.5h8M428 218.5h8M436 219.5h11M447 220.5h13M460 221.5h14M474 222.5h16M490 223.5h20M510 224.5h20M530 225.5h20M550 226.5h24M574 227.5h26M600 228.5h21M621 229.5h24M645 230.5h87M732 229.5h42M774 228.5h95M869 229.5h25M894 230.5h1M895 231.5h25M920 232.5h10M930 233.5h10M940 234.5h13M953 235.5h12M965 236.5h13M978 237.5h12M990 238.5h10M1000 239.5h15M1015 240.5h15M1030 241.5h15M1045 242.5h15M1060 243.5h15M1075 244.5h15M1090 245.5h15M1105 246.5h25M1130 247.5h18M1148 248.5h12M1160 249.5h10M1170 250.5h15M1185 251.5h15M1200 252.5h14M1214 253.5h14M1228 254.5h15M1243 255.5h20M1263 256.5h46M1309 255.5h7M1316 254.5h4M1320 253.5h5M1325 252.5h3" fill="none" stroke="#ff0000" stroke-width="1"/>
<rect x="0" y="80" width="1685" height="2" fill="#ff0000"/>
<rect x="0" y="109" width="1685" height="1" fill="#708090"/>
<rect x="0" y="136" width="1685" height="2" fill="#32cd32"/>
<rect x="0" y="214" width="1685" height="2" fill="#4169e1"/>
<rect x="0" y="290" width="1685" height="2" fill="#4169e1"/>
<rect x="0" y="349" width="1685" height="2" fill="#4169e1"/>
<rect x="0" y="403" width="1685" height="2" fill="#4169e1"/>
<rect x="0" y="27" width="1686" height="1" fill="#000"/>
<rect x="0" y="537" width="1686" height="1" fill="#000"/>
<rect x="1685" y="27" width="1" height="511" fill="#000"/>
<rect x="0" y="539" width="1686" height="1" fill="#000"/>
<rect x="0" y="653" width="1686" height="1" fill="#000"/>
<rect x="1685" y="539" width="1" height="115" fill="#000"/>
<rect x="0" y="655" width="1686" height="1" fill="#000"/>
<rect x="0" y="768" width="1686" height="1" fill="#000"/>
<rect x="1685" y="655" width="1" height="114" fill="#000"/>
<polygon points="1341.5,28 1351.5,28 1346.5,33.5" fill="#778899" shape-rendering="geometricPrecision"/>
<rect x="1686" y="39" width="2" height="1" fill="#000"/>
<text x="1691" y="43.0" font-size="10" fill="#000" textLength="28" lengthAdjust="spacingAndGlyphs">4231.5</text>
<rect x="1686" y="72" width="2" height="1" fill="#000"/>
<text x="1691" y="76.0" font-size="10" fill="#000" textLength="28" lengthAdjust="spacingAndGlyphs">4179.0</text>
<rect x="1686" y="105" width="2" height="1" fill="#000"/>
<text x="1691" y="109.0" font-size="10" fill="#000" textLength="28" lengthAdjust="spacingAndGlyphs">4126.5</text>
<rect x="1686" y="138" width="2" height="1" fill="#000"/>
<text x="1691" y="142.0" font-size="10" fill="#000" textLength="28" lengthAdjust="spacingAndGlyphs">4074.0</text>
<rect x="1686" y="171" width="2" height="1" fill="#000"/>
<text x="1691" y="175.0" font-size="10" fill="#000" textLength="28" lengthAdjust="spacingAndGlyphs">4020.0</text>
<rect x="1686" y="204" width="2" height="1" fill="#000"/>
<text x="1691" y="208.0" font-size="10" fill="#000" textLength="28" lengthAdjust="spacingAndGlyphs">3967.5</text>
<rect x="1686" y="237" width="2" height="1" fill="#000"/>
<text x="1691" y="241.0" font-size="10" fill="#000" textLength="28" lengthAdjust="spacingAndGlyphs">3915.0</text>
<rect x="1686" y="270" width="2" height="1" fill="#000"/>
<text x="1691" y="274.0" font-size="10" fill="#000" textLength="28" lengthAdjust="spacingAndGlyphs">3862.5</text>
<rect x="1686" y="303" width="2" height="1" fill="#000"/>
<text x="1691" y="307.0" font-size="10" fill="#000" textLength="28" lengthAdjust="spacingAndGlyphs">3810.0</text>
<rect x="1686" y="336" width="2" height="1" fill="#000"/>
<text x="1691" y="340.0" font-size="10" fill="#000" textLength="28" lengthAdjust="spacingAndGlyphs">3757.5</text>
<rect x="1686" y="369" width="2" height="1" fill="#000"/>
<text x="1691" y="373.0" font-size="10" fill="#000" textLength="28" lengthAdjust="spacingAndGlyphs">3705.0</text>
<rect x="1686" y="402" width="2" height="1" fill="#000"/>
<text x="1691" y="406.0" font-size="10" fill="#000" textLength="28" lengthAdjust="spacingAndGlyphs">3652.5</text>
<rect x="1686" y="435" width="2" height="1" fill="#000"/>
<text x="1691" y="439.0" font-size="10" fill="#000" textLength="28" lengthAdjust="spacingAndGlyphs">3600.0</text>
<rect x="1686" y="468" width="2" height="1" fill="#000"/>
<text x="1691" y="472.0" font-size="10" fill="#000" textLength="28" lengthAdjust="spacingAndGlyphs">3547.5</text>
<rect x="1686" y="501" width="2" height="1" fill="#000"/>
<text x="1691" y="505.0" font-size="10" fill="#000" textLength="28" lengthAdjust="spacingAndGlyphs">3495.0</text>
<rect x="1686" y="534" width="2" height="1" fill="#000"/>
<text x="1691" y="538.0" font-size="10" fill="#000" textLength="28" lengthAdjust="spacingAndGlyphs">3442.5</text>
<rect x="1686" y="541" width="2" height="1" fill="#000"/>
<text x="1689" y="550.4" font-size="10" fill="#000" textLength="23" lengthAdjust="spacingAndGlyphs">54.84</text>
<rect x="1686" y="573" width="2" height="1" fill="#000"/>
<text x="1689" y="577.4" font-size="10" fill="#000" textLength="18" lengthAdjust="spacingAndGlyphs">0.00</text>
<rect x="1686" y="652" width="2" height="1" fill="#000"/>
<text x="1689" y="650.4" font-size="10" fill="#000" textLength="31" lengthAdjust="spacingAndGlyphs">-136.93</text>
<rect x="1686" y="657" width="2" height="1" fill="#000"/>
<text x="1689" y="666.4" font-size="10" fill="#000" textLength="15" lengthAdjust="spacingAndGlyphs">100</text>
<text x="1688" y="694.4" font-size="10" fill="#000" textLength="10" lengthAdjust="spacingAndGlyphs">70</text>
<text x="1688" y="738.4" font-size="10" fill="#000" textLength="10" lengthAdjust="spacingAndGlyphs">30</text>
<rect x="1686" y="767" width="2" height="1" fill="#000"/>
<text x="1689" y="765.2" font-size="10" fill="#000" textLength="5" lengthAdjust="spacingAndGlyphs">0</text>
<rect x="1687" y="75" width="36" height="11" fill="#ff0000"/>
<text x="1691" y="84.2" font-size="10" fill="#fff" textLength="28" lengthAdjust="spacingAndGlyphs">4165.0</text>
<rect x="1687" y="104" width="36" height="11" fill="#000000"/>
<text x="1691" y="113.2" font-size="10" fill="#fff" textLength="28" lengthAdjust="spacingAndGlyphs">4119.6</text>
<rect x="1687" y="131" width="36" height="11" fill="#32cd32"/>
<text x="1691" y="140.2" font-size="10" fill="#fff" textLength="28" lengthAdjust="spacingAndGlyphs">4075.0</text>
<rect x="1687" y="209" width="36" height="11" fill="#4169e1"/>
<text x="1691" y="218.2" font-size="10" fill="#fff" textLength="28" lengthAdjust="spacingAndGlyphs">3950.0</text>
<rect x="1687" y="285" width="36" height="11" fill="#4169e1"/>
<text x="1691" y="294.2" font-size="10" fill="#fff" textLength="28" lengthAdjust="spacingAndGlyphs">3830.0</text>
<rect x="1687" y="344" width="36" height="11" fill="#4169e1"/>
<text x="1691" y="353.2" font-size="10" fill="#fff" textLength="28" lengthAdjust="spacingAndGlyphs">3735.0</text>
<rect x="1687" y="398" width="36" height="11" fill="#4169e1"/>
<text x="1691" y="407.2" font-size="10" fill="#fff" textLength="28" lengthAdjust="spacingAndGlyphs">3650.0</text>
<polygon points="3,34 11,34 7,38.5" fill="#000" shape-rendering="geometricPrecision"/>
<text x="15" y="39.3" font-size="10" fill="#000" textLength="64.5" lengthAdjust="spacingAndGlyphs">CHINA300-,H4</text>
<text x="86" y="39.3" font-size="10" fill="#000" textLength="121" lengthAdjust="spacingAndGlyphs">4125.4 4147.8 4101.2 4119.6</text>
<text y="187.5" font-size="36" fill="#ed1c24" class="big"><tspan x="393.3" textLength="182" lengthAdjust="spacingAndGlyphs">多空转折点</tspan><tspan x="573.6" textLength="84" lengthAdjust="spacingAndGlyphs">4075</tspan></text>
<rect x="0" y="553" width="1" height="21" fill="#c0c0c0"/>
<rect x="8" y="554" width="1" height="20" fill="#c0c0c0"/>
<rect x="16" y="556" width="1" height="18" fill="#c0c0c0"/>
<rect x="24" y="565" width="1" height="9" fill="#c0c0c0"/>
<rect x="32" y="573" width="1" height="1" fill="#c0c0c0"/>
<rect x="40" y="572" width="1" height="2" fill="#c0c0c0"/>
<rect x="48" y="571" width="1" height="3" fill="#c0c0c0"/>
<rect x="56" y="569" width="1" height="5" fill="#c0c0c0"/>
<rect x="64" y="568" width="1" height="6" fill="#c0c0c0"/>
<rect x="72" y="567" width="1" height="7" fill="#c0c0c0"/>
<rect x="80" y="567" width="1" height="7" fill="#c0c0c0"/>
<rect x="88" y="562" width="1" height="12" fill="#c0c0c0"/>
<rect x="96" y="558" width="1" height="16" fill="#c0c0c0"/>
<rect x="104" y="557" width="1" height="17" fill="#c0c0c0"/>
<rect x="112" y="558" width="1" height="16" fill="#c0c0c0"/>
<rect x="120" y="564" width="1" height="10" fill="#c0c0c0"/>
<rect x="128" y="570" width="1" height="4" fill="#c0c0c0"/>
<rect x="136" y="572" width="1" height="2" fill="#c0c0c0"/>
<rect x="144" y="572" width="1" height="2" fill="#c0c0c0"/>
<rect x="152" y="572" width="1" height="2" fill="#c0c0c0"/>
<rect x="160" y="573" width="1" height="1" fill="#c0c0c0"/>
<rect x="168" y="573" width="1" height="8" fill="#c0c0c0"/>
<rect x="176" y="573" width="1" height="11" fill="#c0c0c0"/>
<rect x="184" y="573" width="1" height="22" fill="#c0c0c0"/>
<rect x="192" y="573" width="1" height="25" fill="#c0c0c0"/>
<rect x="200" y="573" width="1" height="31" fill="#c0c0c0"/>
<rect x="208" y="573" width="1" height="39" fill="#c0c0c0"/>
<rect x="216" y="573" width="1" height="45" fill="#c0c0c0"/>
<rect x="224" y="573" width="1" height="51" fill="#c0c0c0"/>
<rect x="232" y="573" width="1" height="52" fill="#c0c0c0"/>
<rect x="240" y="573" width="1" height="58" fill="#c0c0c0"/>
<rect x="248" y="573" width="1" height="68" fill="#c0c0c0"/>
<rect x="256" y="573" width="1" height="72" fill="#c0c0c0"/>
<rect x="264" y="573" width="1" height="73" fill="#c0c0c0"/>
<rect x="272" y="573" width="1" height="72" fill="#c0c0c0"/>
<rect x="280" y="573" width="1" height="72" fill="#c0c0c0"/>
<rect x="288" y="573" width="1" height="74" fill="#c0c0c0"/>
<rect x="296" y="573" width="1" height="71" fill="#c0c0c0"/>
<rect x="304" y="573" width="1" height="68" fill="#c0c0c0"/>
<rect x="312" y="573" width="1" height="61" fill="#c0c0c0"/>
<rect x="320" y="573" width="1" height="54" fill="#c0c0c0"/>
<rect x="328" y="573" width="1" height="48" fill="#c0c0c0"/>
<rect x="336" y="573" width="1" height="44" fill="#c0c0c0"/>
<rect x="344" y="573" width="1" height="37" fill="#c0c0c0"/>
<rect x="352" y="573" width="1" height="33" fill="#c0c0c0"/>
<rect x="360" y="573" width="1" height="33" fill="#c0c0c0"/>
<rect x="368" y="573" width="1" height="30" fill="#c0c0c0"/>
<rect x="376" y="573" width="1" height="27" fill="#c0c0c0"/>
<rect x="384" y="573" width="1" height="26" fill="#c0c0c0"/>
<rect x="392" y="573" width="1" height="23" fill="#c0c0c0"/>
<rect x="400" y="573" width="1" height="22" fill="#c0c0c0"/>
<rect x="408" y="573" width="1" height="20" fill="#c0c0c0"/>
<rect x="416" y="573" width="1" height="15" fill="#c0c0c0"/>
<rect x="424" y="573" width="1" height="13" fill="#c0c0c0"/>
<rect x="432" y="573" width="1" height="11" fill="#c0c0c0"/>
<rect x="440" y="573" width="1" height="6" fill="#c0c0c0"/>
<rect x="448" y="573" width="1" height="2" fill="#c0c0c0"/>
<rect x="456" y="573" width="1" height="1" fill="#c0c0c0"/>
<rect x="464" y="571" width="1" height="3" fill="#c0c0c0"/>
<rect x="472" y="569" width="1" height="5" fill="#c0c0c0"/>
<rect x="480" y="567" width="1" height="7" fill="#c0c0c0"/>
<rect x="488" y="565" width="1" height="9" fill="#c0c0c0"/>
<rect x="496" y="565" width="1" height="9" fill="#c0c0c0"/>
<rect x="504" y="566" width="1" height="8" fill="#c0c0c0"/>
<rect x="512" y="566" width="1" height="8" fill="#c0c0c0"/>
<rect x="520" y="565" width="1" height="9" fill="#c0c0c0"/>
<rect x="528" y="563" width="1" height="11" fill="#c0c0c0"/>
<rect x="536" y="562" width="1" height="12" fill="#c0c0c0"/>
<rect x="544" y="562" width="1" height="12" fill="#c0c0c0"/>
<rect x="552" y="563" width="1" height="11" fill="#c0c0c0"/>
<rect x="560" y="563" width="1" height="11" fill="#c0c0c0"/>
<rect x="568" y="562" width="1" height="12" fill="#c0c0c0"/>
<rect x="576" y="562" width="1" height="12" fill="#c0c0c0"/>
<rect x="584" y="562" width="1" height="12" fill="#c0c0c0"/>
<rect x="592" y="562" width="1" height="12" fill="#c0c0c0"/>
<rect x="600" y="565" width="1" height="9" fill="#c0c0c0"/>
<rect x="608" y="566" width="1" height="8" fill="#c0c0c0"/>
<rect x="616" y="568" width="1" height="6" fill="#c0c0c0"/>
<rect x="624" y="567" width="1" height="7" fill="#c0c0c0"/>
<rect x="632" y="567" width="1" height="7" fill="#c0c0c0"/>
<rect x="640" y="567" width="1" height="7" fill="#c0c0c0"/>
<rect x="648" y="568" width="1" height="6" fill="#c0c0c0"/>
<rect x="656" y="569" width="1" height="5" fill="#c0c0c0"/>
<rect x="664" y="567" width="1" height="7" fill="#c0c0c0"/>
<rect x="672" y="567" width="1" height="7" fill="#c0c0c0"/>
<rect x="680" y="567" width="1" height="7" fill="#c0c0c0"/>
<rect x="688" y="565" width="1" height="9" fill="#c0c0c0"/>
<rect x="696" y="564" width="1" height="10" fill="#c0c0c0"/>
<rect x="704" y="563" width="1" height="11" fill="#c0c0c0"/>
<rect x="712" y="559" width="1" height="15" fill="#c0c0c0"/>
<rect x="720" y="556" width="1" height="18" fill="#c0c0c0"/>
<rect x="728" y="555" width="1" height="19" fill="#c0c0c0"/>
<rect x="736" y="553" width="1" height="21" fill="#c0c0c0"/>
<rect x="744" y="552" width="1" height="22" fill="#c0c0c0"/>
<rect x="752" y="552" width="1" height="22" fill="#c0c0c0"/>
<rect x="760" y="549" width="1" height="25" fill="#c0c0c0"/>
<rect x="768" y="548" width="1" height="26" fill="#c0c0c0"/>
<rect x="776" y="547" width="1" height="27" fill="#c0c0c0"/>
<rect x="784" y="547" width="1" height="27" fill="#c0c0c0"/>
<rect x="792" y="547" width="1" height="27" fill="#c0c0c0"/>
<rect x="800" y="548" width="1" height="26" fill="#c0c0c0"/>
<rect x="808" y="549" width="1" height="25" fill="#c0c0c0"/>
<rect x="816" y="549" width="1" height="25" fill="#c0c0c0"/>
<rect x="824" y="553" width="1" height="21" fill="#c0c0c0"/>
<rect x="832" y="556" width="1" height="18" fill="#c0c0c0"/>
<rect x="840" y="559" width="1" height="15" fill="#c0c0c0"/>
<rect x="848" y="562" width="1" height="12" fill="#c0c0c0"/>
<rect x="856" y="563" width="1" height="11" fill="#c0c0c0"/>
<rect x="864" y="565" width="1" height="9" fill="#c0c0c0"/>
<rect x="872" y="565" width="1" height="9" fill="#c0c0c0"/>
<rect x="880" y="565" width="1" height="9" fill="#c0c0c0"/>
<rect x="888" y="566" width="1" height="8" fill="#c0c0c0"/>
<rect x="896" y="567" width="1" height="7" fill="#c0c0c0"/>
<rect x="904" y="568" width="1" height="6" fill="#c0c0c0"/>
<rect x="912" y="570" width="1" height="4" fill="#c0c0c0"/>
<rect x="920" y="573" width="1" height="1" fill="#c0c0c0"/>
<rect x="928" y="573" width="1" height="5" fill="#c0c0c0"/>
<rect x="936" y="573" width="1" height="9" fill="#c0c0c0"/>
<rect x="944" y="573" width="1" height="11" fill="#c0c0c0"/>
<rect x="952" y="573" width="1" height="12" fill="#c0c0c0"/>
<rect x="960" y="573" width="1" height="11" fill="#c0c0c0"/>
<rect x="968" y="573" width="1" height="12" fill="#c0c0c0"/>
<rect x="976" y="573" width="1" height="12" fill="#c0c0c0"/>
<rect x="984" y="573" width="1" height="13" fill="#c0c0c0"/>
<rect x="992" y="573" width="1" height="13" fill="#c0c0c0"/>
<rect x="1000" y="573" width="1" height="13" fill="#c0c0c0"/>
<rect x="1008" y="573" width="1" height="11" fill="#c0c0c0"/>
<rect x="1016" y="573" width="1" height="5" fill="#c0c0c0"/>
<rect x="1024" y="573" width="1" height="1" fill="#c0c0c0"/>
<rect x="1032" y="569" width="1" height="5" fill="#c0c0c0"/>
<rect x="1040" y="566" width="1" height="8" fill="#c0c0c0"/>
<rect x="1048" y="562" width="1" height="12" fill="#c0c0c0"/>
<rect x="1056" y="560" width="1" height="14" fill="#c0c0c0"/>
<rect x="1064" y="559" width="1" height="15" fill="#c0c0c0"/>
<rect x="1072" y="558" width="1" height="16" fill="#c0c0c0"/>
<rect x="1080" y="558" width="1" height="16" fill="#c0c0c0"/>
<rect x="1088" y="557" width="1" height="17" fill="#c0c0c0"/>
<rect x="1096" y="555" width="1" height="19" fill="#c0c0c0"/>
<rect x="1104" y="554" width="1" height="20" fill="#c0c0c0"/>
<rect x="1112" y="552" width="1" height="22" fill="#c0c0c0"/>
<rect x="1120" y="551" width="1" height="23" fill="#c0c0c0"/>
<rect x="1128" y="551" width="1" height="23" fill="#c0c0c0"/>
<rect x="1136" y="551" width="1" height="23" fill="#c0c0c0"/>
<rect x="1144" y="551" width="1" height="23" fill="#c0c0c0"/>
<rect x="1152" y="554" width="1" height="20" fill="#c0c0c0"/>
<rect x="1160" y="556" width="1" height="18" fill="#c0c0c0"/>
<rect x="1168" y="557" width="1" height="17" fill="#c0c0c0"/>
<rect x="1176" y="558" width="1" height="16" fill="#c0c0c0"/>
<rect x="1184" y="562" width="1" height="12" fill="#c0c0c0"/>
<rect x="1192" y="562" width="1" height="12" fill="#c0c0c0"/>
<rect x="1200" y="562" width="1" height="12" fill="#c0c0c0"/>
<rect x="1208" y="562" width="1" height="12" fill="#c0c0c0"/>
<rect x="1216" y="562" width="1" height="12" fill="#c0c0c0"/>
<rect x="1224" y="563" width="1" height="11" fill="#c0c0c0"/>
<rect x="1232" y="563" width="1" height="11" fill="#c0c0c0"/>
<rect x="1240" y="562" width="1" height="12" fill="#c0c0c0"/>
<rect x="1248" y="560" width="1" height="14" fill="#c0c0c0"/>
<rect x="1256" y="558" width="1" height="16" fill="#c0c0c0"/>
<rect x="1264" y="557" width="1" height="17" fill="#c0c0c0"/>
<rect x="1272" y="556" width="1" height="18" fill="#c0c0c0"/>
<rect x="1280" y="555" width="1" height="19" fill="#c0c0c0"/>
<rect x="1288" y="554" width="1" height="20" fill="#c0c0c0"/>
<rect x="1296" y="552" width="1" height="22" fill="#c0c0c0"/>
<rect x="1304" y="553" width="1" height="21" fill="#c0c0c0"/>
<rect x="1312" y="554" width="1" height="20" fill="#c0c0c0"/>
<rect x="1320" y="552" width="1" height="22" fill="#c0c0c0"/>
<rect x="1328" y="551" width="1" height="23" fill="#c0c0c0"/>
<path d="M0 549.5h1M1 549.5h1M2 549.5h1M6 549.5h1M7 550.5h1M8 550.5h1M12 550.5h1M13 550.5h1M14 551.5h1M18 551.5h1M19 551.5h1M20 552.5h1M24 552.5h1M25 553.5h1M26 553.5h1M30 554.5h1M31 554.5h1M32 554.5h1M36 555.5h1M37 555.5h1M38 555.5h1M42 557.5h1M43 557.5h1M44 557.5h1M48 559.5h1M49 559.5h1M50 560.5h1M54 561.5h1M55 562.5h1M56 562.5h1M60 562.5h1M61 562.5h1M62 562.5h1M66 563.5h1M67 563.5h1M68 563.5h1M72 564.5h1M73 564.5h1M74 564.5h1M78 566.5h1M79 566.5h1M80 567.5h1M84 567.5h1M85 567.5h1M86 567.5h1M90 567.5h1M91 566.5h1M92 566.5h1M96 566.5h1M97 565.5h1M98 565.5h1M102 565.5h1M103 565.5h1M104 564.5h1M108 564.5h1M109 564.5h1M110 564.5h1M114 563.5h1M115 563.5h1M116 562.5h1M120 562.5h1M121 562.5h1M122 562.5h1M126 562.5h1M127 562.5h1M128 562.5h1M132 562.5h1M133 562.5h1M134 562.5h1M138 562.5h1M139 562.5h1M140 562.5h1M144 563.5h1M145 563.5h1M146 563.5h1M150 563.5h1M151 563.5h1M152 564.5h1M156 565.5h1M157 565.5h1M158 565.5h1M162 566.5h1M163 566.5h1M164 567.5h1M168 568.5h1M169 568.5h1M170 569.5h1M174 570.5h1M175 571.5h1M176 571.5h1M180 573.5h1M181 573.5h1M182 574.5h1M186 576.5h1M187 576.5h1M188 577.5h1M192 579.5h1M193 579.5h1M194 580.5h1M198 582.5h1M199 582.5h1M200 583.5h1M204 585.5h1M205 586.5h1M206 587.5h1M210 590.5h1M211 590.5h1M212 591.5h1M216 594.5h1M217 594.5h1M218 595.5h1M222 598.5h1M223 599.5h1M224 599.5h1M228 602.5h1M229 603.5h1M230 604.5h1M234 606.5h1M235 607.5h1M236 608.5h1M240 611.5h1M241 611.5h1M242 612.5h1M246 615.5h1M247 615.5h1M248 616.5h1M252 619.5h1M253 619.5h1M254 620.5h1M258 622.5h1M259 623.5h1M260 624.5h1M264 626.5h1M265 627.5h1M266 627.5h1M270 630.5h1M271 630.5h1M272 631.5h1M276 633.5h1M277 633.5h1M278 634.5h1M282 635.5h1M283 636.5h1M284 636.5h1M288 638.5h1M289 638.5h1M290 639.5h1M294 640.5h1M295 640.5h1M296 640.5h1M300 642.5h1M301 642.5h1M302 642.5h1M306 642.5h1M307 642.5h1M308 642.5h1M312 642.5h1M313 642.5h1M314 642.5h1M318 642.5h1M319 642.5h1M320 642.5h1M324 640.5h1M325 640.5h1M326 639.5h1M330 638.5h1M331 637.5h1M332 637.5h1M336 635.5h1M337 635.5h1M338 634.5h1M342 633.5h1M343 632.5h1M344 632.5h1M348 630.5h1M349 630.5h1M350 630.5h1M354 627.5h1M355 626.5h1M356 625.5h1M360 623.5h1M361 622.5h1M362 622.5h1M366 620.5h1M367 619.5h1M368 619.5h1M372 617.5h1M373 616.5h1M374 616.5h1M378 614.5h1M379 613.5h1M380 613.5h1M384 611.5h1M385 610.5h1M386 610.5h1M390 608.5h1M391 607.5h1M392 607.5h1M396 605.5h1M397 605.5h1M398 604.5h1M402 603.5h1M403 602.5h1M404 602.5h1M408 600.5h1M409 600.5h1M410 600.5h1M414 598.5h1M415 598.5h1M416 598.5h1M420 597.5h1M421 596.5h1M422 596.5h1M426 595.5h1M427 595.5h1M428 595.5h1M432 594.5h1M433 593.5h1M434 593.5h1M438 591.5h1M439 591.5h1M440 591.5h1M444 589.5h1M445 589.5h1M446 589.5h1M450 588.5h1M451 587.5h1M452 587.5h1M456 585.5h1M457 585.5h1M458 584.5h1M462 583.5h1M463 583.5h1M464 582.5h1M468 581.5h1M469 581.5h1M470 581.5h1M474 579.5h1M475 579.5h1M476 578.5h1M480 577.5h1M481 576.5h1M482 576.5h1M486 575.5h1M487 574.5h1M488 574.5h1M492 573.5h1M493 573.5h1M494 573.5h1M498 572.5h1M499 571.5h1M500 571.5h1M504 570.5h1M505 570.5h1M506 570.5h1M510 569.5h1M511 568.5h1M512 568.5h1M516 567.5h1M517 567.5h1M518 567.5h1M522 566.5h1M523 565.5h1M524 565.5h1M528 564.5h1M529 564.5h1M530 564.5h1M534 564.5h1M535 564.5h1M536 564.5h1M540 564.5h1M541 563.5h1M542 563.5h1M546 563.5h1M547 563.5h1M548 563.5h1M552 563.5h1M553 563.5h1M554 563.5h1M558 563.5h1M559 563.5h1M560 563.5h1M564 562.5h1M565 562.5h1M566 562.5h1M570 562.5h1M571 562.5h1M572 562.5h1M576 562.5h1M577 562.5h1M578 562.5h1M582 562.5h1M583 562.5h1M584 562.5h1M588 562.5h1M589 562.5h1M590 562.5h1M594 562.5h1M595 562.5h1M596 562.5h1M600 562.5h1M601 562.5h1M602 562.5h1M606 562.5h1M607 562.5h1M608 562.5h1M612 562.5h1M613 562.5h1M614 563.5h1M618 563.5h1M619 563.5h1M620 563.5h1M624 563.5h1M625 564.5h1M626 564.5h1M630 564.5h1M631 564.5h1M632 564.5h1M636 564.5h1M637 564.5h1M638 564.5h1M642 564.5h1M643 564.5h1M644 564.5h1M648 565.5h1M649 565.5h1M650 565.5h1M654 565.5h1M655 565.5h1M656 565.5h1M660 566.5h1M661 566.5h1M662 566.5h1M666 566.5h1M667 566.5h1M668 566.5h1M672 566.5h1M673 566.5h1M674 566.5h1M678 566.5h1M679 566.5h1M680 566.5h1M684 566.5h1M685 566.5h1M686 566.5h1M690 566.5h1M691 566.5h1M692 566.5h1M696 565.5h1M697 565.5h1M698 565.5h1M702 565.5h1M703 565.5h1M704 565.5h1M708 564.5h1M709 564.5h1M710 564.5h1M714 564.5h1M715 564.5h1M716 563.5h1M720 563.5h1M721 562.5h1M722 562.5h1M726 561.5h1M727 561.5h1M728 561.5h1M732 561.5h1M733 561.5h1M734 561.5h1M738 560.5h1M739 560.5h1M740 559.5h1M744 558.5h1M745 558.5h1M746 558.5h1M750 557.5h1M751 557.5h1M752 557.5h1M756 556.5h1M757 556.5h1M758 556.5h1M762 554.5h1M763 554.5h1M764 554.5h1M768 552.5h1M769 552.5h1M770 552.5h1M774 551.5h1M775 551.5h1M776 551.5h1M780 550.5h1M781 550.5h1M782 550.5h1M786 549.5h1M787 549.5h1M788 549.5h1M792 548.5h1M793 548.5h1M794 548.5h1M798 548.5h1M799 548.5h1M800 548.5h1M804 548.5h1M805 548.5h1M806 548.5h1M810 548.5h1M811 547.5h1M812 547.5h1M816 547.5h1M817 547.5h1M818 547.5h1M822 547.5h1M823 547.5h1M824 547.5h1M828 547.5h1M829 547.5h1M830 548.5h1M834 548.5h1M835 548.5h1M836 548.5h1M840 549.5h1M841 549.5h1M842 549.5h1M846 551.5h1M847 551.5h1M848 551.5h1M852 552.5h1M853 552.5h1M854 552.5h1M858 553.5h1M859 554.5h1M860 554.5h1M864 555.5h1M865 555.5h1M866 555.5h1M870 556.5h1M871 556.5h1M872 556.5h1M876 558.5h1M877 558.5h1M878 558.5h1M882 559.5h1M883 559.5h1M884 559.5h1M888 560.5h1M889 560.5h1M890 560.5h1M894 561.5h1M895 561.5h1M896 561.5h1M900 562.5h1M901 562.5h1M902 562.5h1M906 563.5h1M907 563.5h1M908 563.5h1M912 564.5h1M913 564.5h1M914 564.5h1M918 565.5h1M919 565.5h1M920 565.5h1M924 566.5h1M925 566.5h1M926 566.5h1M930 567.5h1M931 567.5h1M932 567.5h1M936 568.5h1M937 569.5h1M938 569.5h1M942 571.5h1M943 571.5h1M944 572.5h1M948 573.5h1M949 573.5h1M950 573.5h1M954 574.5h1M955 575.5h1M956 575.5h1M960 576.5h1M961 576.5h1M962 577.5h1M966 578.5h1M967 578.5h1M968 578.5h1M972 579.5h1M973 580.5h1M974 580.5h1M978 581.5h1M979 581.5h1M980 581.5h1M984 582.5h1M985 582.5h1M986 582.5h1M990 583.5h1M991 583.5h1M992 583.5h1M996 584.5h1M997 584.5h1M998 584.5h1M1002 584.5h1M1003 584.5h1M1004 584.5h1M1008 583.5h1M1009 583.5h1M1010 583.5h1M1014 583.5h1M1015 583.5h1M1016 582.5h1M1020 582.5h1M1021 582.5h1M1022 582.5h1M1026 581.5h1M1027 581.5h1M1028 581.5h1M1032 580.5h1M1033 580.5h1M1034 580.5h1M1038 579.5h1M1039 578.5h1M1040 578.5h1M1044 577.5h1M1045 577.5h1M1046 577.5h1M1050 576.5h1M1051 575.5h1M1052 575.5h1M1056 573.5h1M1057 573.5h1M1058 573.5h1M1062 571.5h1M1063 571.5h1M1064 570.5h1M1068 569.5h1M1069 568.5h1M1070 568.5h1M1074 567.5h1M1075 566.5h1M1076 566.5h1M1080 565.5h1M1081 564.5h1M1082 564.5h1M1086 562.5h1M1087 562.5h1M1088 562.5h1M1092 561.5h1M1093 560.5h1M1094 560.5h1M1098 559.5h1M1099 559.5h1M1100 559.5h1M1104 558.5h1M1105 557.5h1M1106 557.5h1M1110 556.5h1M1111 556.5h1M1112 556.5h1M1116 555.5h1M1117 555.5h1M1118 555.5h1M1122 555.5h1M1123 555.5h1M1124 554.5h1M1128 554.5h1M1129 554.5h1M1130 554.5h1M1134 553.5h1M1135 553.5h1M1136 553.5h1M1140 552.5h1M1141 552.5h1M1142 552.5h1M1146 552.5h1M1147 552.5h1M1148 552.5h1M1152 552.5h1M1153 552.5h1M1154 552.5h1M1158 552.5h1M1159 552.5h1M1160 552.5h1M1164 552.5h1M1165 552.5h1M1166 552.5h1M1170 552.5h1M1171 552.5h1M1172 552.5h1M1176 552.5h1M1177 552.5h1M1178 552.5h1M1182 552.5h1M1183 552.5h1M1184 553.5h1M1188 553.5h1M1189 553.5h1M1190 554.5h1M1194 554.5h1M1195 555.5h1M1196 555.5h1M1200 556.5h1M1201 556.5h1M1202 556.5h1M1206 556.5h1M1207 556.5h1M1208 556.5h1M1212 557.5h1M1213 557.5h1M1214 558.5h1M1218 558.5h1M1219 558.5h1M1220 559.5h1M1224 559.5h1M1225 559.5h1M1226 559.5h1M1230 560.5h1M1231 560.5h1M1232 560.5h1M1236 561.5h1M1237 561.5h1M1238 561.5h1M1242 561.5h1M1243 561.5h1M1244 561.5h1M1248 561.5h1M1249 561.5h1M1250 561.5h1M1254 560.5h1M1255 560.5h1M1256 560.5h1M1260 560.5h1M1261 560.5h1M1262 560.5h1M1266 560.5h1M1267 560.5h1M1268 559.5h1M1272 559.5h1M1273 559.5h1M1274 559.5h1M1278 558.5h1M1279 558.5h1M1280 558.5h1M1284 558.5h1M1285 558.5h1M1286 557.5h1M1290 557.5h1M1291 557.5h1M1292 557.5h1M1296 556.5h1M1297 556.5h1M1298 556.5h1M1302 556.5h1M1303 556.5h1M1304 556.5h1M1308 555.5h1M1309 555.5h1M1310 555.5h1M1314 554.5h1M1315 554.5h1M1316 554.5h1M1320 553.5h1M1321 553.5h1M1322 553.5h1M1326 553.5h1M1327 553.5h1" fill="none" stroke="#ff0000" stroke-width="1"/>
<text x="4" y="552.6" font-size="10" fill="#000" textLength="118" lengthAdjust="spacingAndGlyphs">MACD(12,26,9) 38.75 34.01</text>
<line x1="1" y1="690.5" x2="1685" y2="690.5" stroke="#c0c0c0" stroke-width="1" stroke-dasharray="3 3"/>
<line x1="1" y1="734.5" x2="1685" y2="734.5" stroke="#c0c0c0" stroke-width="1" stroke-dasharray="3 3"/>
<path d="M0 709.5h2M2 708.5h2M4 707.5h2M6 706.5h5M11 707.5h3M14 708.5h2M16.5 709v2M17.5 711v2M18.5 713v2M19.5 715v2M20.5 717v2M21.5 719v3M22.5 722v2M23.5 724v2M24 726.5h4M28 725.5h4M32.5 724v2M33.5 722v2M34.5 720v2M35.5 718v2M36 717.5h1M37.5 715v2M38.5 713v2M39.5 711v2M40 710.5h5M45 711.5h4M49 710.5h2M51 709.5h1M52 708.5h2M54 707.5h2M56 706.5h2M58 707.5h2M60 708.5h2M62 709.5h2M64 710.5h2M66 709.5h4M70 708.5h5M75 707.5h6M81 706.5h1M82 705.5h1M83 704.5h2M85 703.5h1M86 702.5h2M88 701.5h2M90 700.5h3M93 699.5h5M98 700.5h1M99 701.5h1M100 702.5h2M102 703.5h1M103 704.5h1M104 705.5h4M108 706.5h4M112 707.5h1M113.5 708v2M114 710.5h1M115.5 711v2M116.5 713v2M117 715.5h1M118.5 716v2M119.5 718v2M120 720.5h6M126 721.5h3M129 720.5h1M130 719.5h1M131 718.5h1M132 717.5h1M133 716.5h1M134 715.5h1M135 714.5h2M137 713.5h4M141 712.5h13M154 713.5h1M155 714.5h2M157 715.5h1M158 716.5h2M160 717.5h1M161 718.5h1M162 719.5h1M163 720.5h2M165 721.5h1M166 722.5h1M167 723.5h1M168 724.5h2M170 723.5h2M172 722.5h3M175 721.5h2M177.5 722v2M178 724.5h1M179 725.5h1M180.5 726v2M181 728.5h1M182.5 729v2M183 731.5h1M184 732.5h1M185.5 730v2M186 729.5h1M187.5 727v2M188 726.5h1M189 725.5h1M190.5 723v2M191 722.5h1M192 721.5h1M193 722.5h2M195 723.5h2M197 724.5h1M198 725.5h2M200 726.5h1M201 727.5h2M203 728.5h1M204 729.5h1M205 730.5h2M207 731.5h1M208 732.5h1M209 731.5h3M212 730.5h2M214 729.5h6M220 730.5h3M223 731.5h2M225 730.5h1M226 729.5h2M228 728.5h1M229 727.5h1M230 726.5h2M232 725.5h1M233 726.5h2M235 727.5h1M236 728.5h2M238 729.5h1M239 730.5h1M240 731.5h2M242 732.5h2M244 733.5h2M246 734.5h2M248 735.5h1M249 734.5h2M251 733.5h2M253 732.5h2M255 731.5h4M259 730.5h6M265 729.5h2M267 728.5h2M269 727.5h2M271 726.5h4M275 727.5h2M277 728.5h3M280 729.5h3M283 730.5h4M287 731.5h2M289 730.5h1M290 729.5h2M292 728.5h1M293 727.5h1M294 726.5h1M295 725.5h2M297 724.5h4M301 723.5h4M305 722.5h1M306 721.5h2M308 720.5h1M309 719.5h2M311 718.5h2M313 717.5h4M317 716.5h15M332 717.5h3M335 718.5h2M337 717.5h1M338 716.5h1M339 715.5h1M340 714.5h2M342 713.5h1M343 712.5h1M344 711.5h1M345 712.5h2M347 713.5h2M349 714.5h1M350 715.5h2M352 716.5h2M354 717.5h2M356 718.5h2M358 719.5h2M360 720.5h2M362 719.5h2M364 718.5h3M367 717.5h5M372 716.5h9M381 717.5h5M386 716.5h2M388 715.5h3M391 714.5h3M394 715.5h3M397 716.5h2M399 717.5h3M402 716.5h4M406 715.5h3M409 714.5h2M411 713.5h1M412 712.5h2M414 711.5h2M416 710.5h3M419 711.5h5M424 712.5h6M430 713.5h3M433 712.5h1M434 711.5h1M435 710.5h1M436 709.5h2M438 708.5h1M439 707.5h1M440 706.5h13M453 707.5h15M468 706.5h8M476 705.5h9M485 706.5h6M491 707.5h4M495 708.5h6M501 709.5h6M507 710.5h4M511 711.5h2M513 710.5h2M515 709.5h1M516 708.5h2M518 707.5h2M520 706.5h1M521 705.5h2M523 704.5h2M525 703.5h2M527 702.5h9M536 703.5h3M539 704.5h3M542 705.5h2M544 706.5h2M546 707.5h1M547 708.5h1M548 709.5h2M550 710.5h1M551 711.5h1M552 712.5h1M553 711.5h2M555 710.5h2M557 709.5h2M559 708.5h2M561 707.5h1M562 706.5h1M563 705.5h2M565 704.5h1M566 703.5h1M567 702.5h3M570 703.5h1M571 704.5h2M573 705.5h1M574 706.5h2M576 707.5h4M580 706.5h8M588 705.5h5M593.5 706v2M594 708.5h1M595 709.5h1M596.5 710v2M597 712.5h1M598 713.5h1M599.5 714v2M600 716.5h1M601 715.5h2M603 714.5h2M605 713.5h2M607 712.5h7M614 713.5h3M617 712.5h1M618 711.5h2M620 710.5h1M621 709.5h1M622 708.5h2M624 707.5h2M626 708.5h3M629 709.5h2M631 710.5h5M636 709.5h7M643 710.5h4M647 711.5h10M657 710.5h1M658 709.5h1M659 708.5h1M660 707.5h2M662 706.5h1M663 705.5h1M664 704.5h2M666 705.5h2M668 706.5h2M670 707.5h2M672 708.5h1M673 707.5h1M674 706.5h2M676 705.5h1M677 704.5h2M679 703.5h4M683 704.5h2M685 705.5h3M688 706.5h2M690 705.5h2M692 704.5h3M695 703.5h10M705 702.5h1M706 701.5h1M707.5 699v2M708 698.5h1M709 697.5h1M710 696.5h1M711 695.5h1M712 694.5h10M722 695.5h3M725 696.5h2M727 697.5h3M730 696.5h2M732 695.5h3M735 694.5h6M741 695.5h8M749 696.5h4M753 695.5h1M754 694.5h2M756 693.5h1M757 692.5h1M758 691.5h2M760 690.5h3M763 691.5h4M767 692.5h3M770 691.5h4M774 690.5h4M778 691.5h1M779 692.5h2M781 693.5h2M783 694.5h1M784 695.5h3M787 696.5h2M789 697.5h3M792 698.5h2M794 697.5h4M798 696.5h5M803 697.5h4M807 698.5h3M810 697.5h2M812 696.5h3M815 695.5h1M816.5 695v2M817.5 697v2M818.5 699v2M819.5 701v2M820.5 703v2M821.5 705v2M822.5 707v2M823.5 709v2M824 711.5h6M830 712.5h6M836 711.5h5M841 712.5h2M843 713.5h1M844 714.5h1M845 715.5h2M847 716.5h1M848 717.5h1M849 716.5h1M850 715.5h1M851 714.5h1M852 713.5h1M853 712.5h1M854 711.5h1M855 710.5h1M856 709.5h2M858 710.5h2M860 711.5h2M862 712.5h2M864 713.5h1M865 712.5h1M866 711.5h2M868 710.5h2M870 709.5h1M871 708.5h5M876 707.5h6M882 708.5h3M885 709.5h2M887 710.5h18M905 711.5h2M907 712.5h1M908 713.5h1M909 714.5h2M911 715.5h1M912 716.5h1M913 717.5h1M914.5 718v2M915 720.5h1M916 721.5h1M917 722.5h1M918 723.5h1M919.5 724v2M920 726.5h2M922 727.5h2M924 728.5h2M926 729.5h2M928 730.5h9M937 729.5h4M941 728.5h4M945 727.5h1M946 726.5h1M947 725.5h1M948 724.5h1M949 723.5h1M950 722.5h1M951 721.5h2M953 720.5h5M958 719.5h5M963 720.5h4M967 721.5h6M973 722.5h5M978 723.5h2M980 724.5h2M982 725.5h2M984 726.5h1M985 725.5h1M986 724.5h1M987 723.5h1M988 722.5h2M990 721.5h1M991 720.5h1M992 719.5h3M995 718.5h6M1001 717.5h7M1008.5 715v3M1009.5 712v3M1010.5 710v2M1011.5 707v3M1012.5 705v2M1013.5 702v3M1014.5 699v3M1015.5 697v2M1016 696.5h12M1028 695.5h8M1036 694.5h5M1041 693.5h3M1044 692.5h2M1046 691.5h4M1050 692.5h1M1051 693.5h1M1052 694.5h1M1053 695.5h2M1055 696.5h1M1056 697.5h13M1069 698.5h6M1075 699.5h4M1079 700.5h2M1081 699.5h1M1082 698.5h2M1084 697.5h1M1085 696.5h1M1086 695.5h2M1088 694.5h2M1090 693.5h4M1094 692.5h11M1105 691.5h2M1107 690.5h2M1109 689.5h2M1111 688.5h4M1115 689.5h5M1120 690.5h3M1123 691.5h2M1125 692.5h3M1128 693.5h4M1132 692.5h12M1144.5 692v2M1145.5 694v2M1146.5 696v2M1147 698.5h1M1148.5 699v2M1149.5 701v2M1150.5 703v2M1151.5 705v2M1152 707.5h9M1161 706.5h2M1163 705.5h1M1164 704.5h2M1166 703.5h2M1168 702.5h2M1170 703.5h3M1173 704.5h2M1175 705.5h2M1177.5 706v2M1178 708.5h1M1179.5 709v2M1180 711.5h1M1181.5 712v2M1182 714.5h1M1183.5 715v2M1184 717.5h1M1185.5 715v2M1186 714.5h1M1187.5 712v2M1188 711.5h1M1189 710.5h1M1190.5 708v2M1191 707.5h1M1192 706.5h2M1194 705.5h2M1196 704.5h3M1199 703.5h4M1203 704.5h4M1207 705.5h3M1210 704.5h2M1212 703.5h3M1215 702.5h2M1217 703.5h1M1218 704.5h1M1219 705.5h2M1221 706.5h1M1222 707.5h1M1223 708.5h1M1224 709.5h2M1226 708.5h2M1228 707.5h3M1231 706.5h2M1233 705.5h2M1235 704.5h1M1236 703.5h2M1238 702.5h1M1239 701.5h2M1241 700.5h2M1243 699.5h2M1245 698.5h2M1247 697.5h2M1249 696.5h2M1251 695.5h2M1253 694.5h2M1255 693.5h2M1257 694.5h2M1259 695.5h1M1260 696.5h1M1261 697.5h2M1263 698.5h1M1264 699.5h2M1266 698.5h2M1268 697.5h3M1271 696.5h5M1276 695.5h8M1284 694.5h5M1289 693.5h2M1291 692.5h2M1293 691.5h2M1295 690.5h1M1296.5 690v2M1297 692.5h1M1298.5 693v2M1299 695.5h1M1300.5 696v2M1301.5 698v2M1302 700.5h1M1303.5 701v2M1304 703.5h2M1306 702.5h2M1308 701.5h3M1311 700.5h2M1313 699.5h1M1314 698.5h2M1316 697.5h1M1317 696.5h1M1318 695.5h2M1320 694.5h5M1325 695.5h3" fill="none" stroke="#1e90ff" stroke-width="1"/>
<text x="4" y="668.4" font-size="10" fill="#000" textLength="68" lengthAdjust="spacingAndGlyphs">RSI(14) 65.4134</text>
<rect x="0" y="769" width="1" height="3" fill="#000"/>
<text x="-1" y="781.2" font-size="10" fill="#000" textLength="52" lengthAdjust="spacingAndGlyphs">26 Feb 2020</text>
<rect x="64" y="769" width="1" height="3" fill="#000"/>
<text x="63" y="781.2" font-size="10" fill="#000" textLength="50" lengthAdjust="spacingAndGlyphs">3 Mar 05:00</text>
<rect x="128" y="769" width="1" height="3" fill="#000"/>
<text x="127" y="781.2" font-size="10" fill="#000" textLength="50" lengthAdjust="spacingAndGlyphs">9 Mar 05:00</text>
<rect x="192" y="769" width="1" height="3" fill="#000"/>
<text x="191" y="781.2" font-size="10" fill="#000" textLength="55.5" lengthAdjust="spacingAndGlyphs">13 Mar 05:00</text>
<rect x="256" y="769" width="1" height="3" fill="#000"/>
<text x="255" y="781.2" font-size="10" fill="#000" textLength="55.5" lengthAdjust="spacingAndGlyphs">19 Mar 05:00</text>
<rect x="320" y="769" width="1" height="3" fill="#000"/>
<text x="319" y="781.2" font-size="10" fill="#000" textLength="55.5" lengthAdjust="spacingAndGlyphs">25 Mar 05:00</text>
<rect x="384" y="769" width="1" height="3" fill="#000"/>
<text x="383" y="781.2" font-size="10" fill="#000" textLength="55.5" lengthAdjust="spacingAndGlyphs">31 Mar 05:00</text>
<rect x="448" y="769" width="1" height="3" fill="#000"/>
<text x="447" y="781.2" font-size="10" fill="#000" textLength="48.5" lengthAdjust="spacingAndGlyphs">7 Apr 05:00</text>
<rect x="512" y="769" width="1" height="3" fill="#000"/>
<text x="511" y="781.2" font-size="10" fill="#000" textLength="54" lengthAdjust="spacingAndGlyphs">13 Apr 05:00</text>
<rect x="576" y="769" width="1" height="3" fill="#000"/>
<text x="575" y="781.2" font-size="10" fill="#000" textLength="54" lengthAdjust="spacingAndGlyphs">17 Apr 05:00</text>
<rect x="640" y="769" width="1" height="3" fill="#000"/>
<text x="639" y="781.2" font-size="10" fill="#000" textLength="54" lengthAdjust="spacingAndGlyphs">23 Apr 05:00</text>
<rect x="704" y="769" width="1" height="3" fill="#000"/>
<text x="703" y="781.2" font-size="10" fill="#000" textLength="54" lengthAdjust="spacingAndGlyphs">29 Apr 05:00</text>
<rect x="768" y="769" width="1" height="3" fill="#000"/>
<text x="767" y="781.2" font-size="10" fill="#000" textLength="53" lengthAdjust="spacingAndGlyphs">8 May 05:00</text>
<rect x="832" y="769" width="1" height="3" fill="#000"/>
<text x="831" y="781.2" font-size="10" fill="#000" textLength="58" lengthAdjust="spacingAndGlyphs">14 May 05:00</text>
<rect x="896" y="769" width="1" height="3" fill="#000"/>
<text x="895" y="781.2" font-size="10" fill="#000" textLength="58" lengthAdjust="spacingAndGlyphs">20 May 05:00</text>
<rect x="960" y="769" width="1" height="3" fill="#000"/>
<text x="959" y="781.2" font-size="10" fill="#000" textLength="58" lengthAdjust="spacingAndGlyphs">26 May 05:00</text>
<rect x="1024" y="769" width="1" height="3" fill="#000"/>
<text x="1023" y="781.2" font-size="10" fill="#000" textLength="48" lengthAdjust="spacingAndGlyphs">1 Jun 05:00</text>
<rect x="1088" y="769" width="1" height="3" fill="#000"/>
<text x="1087" y="781.2" font-size="10" fill="#000" textLength="48" lengthAdjust="spacingAndGlyphs">5 Jun 05:00</text>
<rect x="1152" y="769" width="1" height="3" fill="#000"/>
<text x="1151" y="781.2" font-size="10" fill="#000" textLength="53" lengthAdjust="spacingAndGlyphs">11 Jun 05:00</text>
<rect x="1216" y="769" width="1" height="3" fill="#000"/>
<text x="1215" y="781.2" font-size="10" fill="#000" textLength="53" lengthAdjust="spacingAndGlyphs">17 Jun 05:00</text>
<rect x="1280" y="769" width="1" height="3" fill="#000"/>
<text x="1279" y="781.2" font-size="10" fill="#000" textLength="53" lengthAdjust="spacingAndGlyphs">23 Jun 05:00</text>
</svg></body></html>
